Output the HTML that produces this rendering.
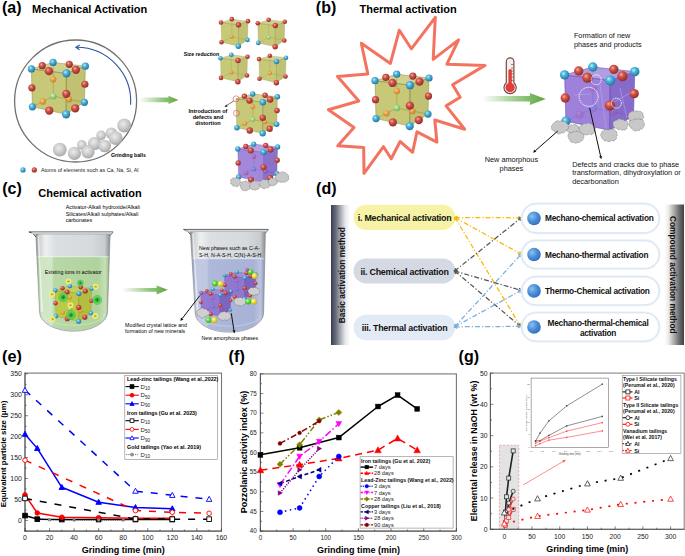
<!DOCTYPE html><html><head><meta charset="utf-8"><style>html,body{margin:0;padding:0;background:#fff;overflow:hidden;width:685px;height:556px;}svg{display:block;font-family:"Liberation Sans",sans-serif;}</style></head><body>
<svg width="685" height="556" viewBox="0 0 685 556">

<defs>
 <radialGradient id="gB" cx="0.38" cy="0.35" r="0.7"><stop offset="0" stop-color="#bfeeff"/><stop offset="0.35" stop-color="#4fb6de"/><stop offset="1" stop-color="#1d6f98"/></radialGradient>
 <radialGradient id="gR" cx="0.38" cy="0.35" r="0.7"><stop offset="0" stop-color="#f7b0a6"/><stop offset="0.35" stop-color="#d4534a"/><stop offset="1" stop-color="#8a2a24"/></radialGradient>
 <radialGradient id="gO" cx="0.38" cy="0.35" r="0.7"><stop offset="0" stop-color="#ffd890"/><stop offset="0.4" stop-color="#f0a040"/><stop offset="1" stop-color="#c07020"/></radialGradient>
 <radialGradient id="gG" cx="0.38" cy="0.35" r="0.7"><stop offset="0" stop-color="#e0ffd8"/><stop offset="0.4" stop-color="#9edc8e"/><stop offset="1" stop-color="#5ca85a"/></radialGradient>
 <radialGradient id="gP" cx="0.38" cy="0.35" r="0.7"><stop offset="0" stop-color="#e8a0d0"/><stop offset="0.4" stop-color="#b05aa8"/><stop offset="1" stop-color="#7a3a7a"/></radialGradient>
 <radialGradient id="gV" cx="0.38" cy="0.35" r="0.7"><stop offset="0" stop-color="#b0c0ff"/><stop offset="0.4" stop-color="#6a7ae0"/><stop offset="1" stop-color="#4050a8"/></radialGradient>
 <radialGradient id="gK" cx="0.42" cy="0.38" r="0.68"><stop offset="0" stop-color="#ececec"/><stop offset="0.55" stop-color="#c8c8c8"/><stop offset="0.9" stop-color="#a8a8a8"/><stop offset="1" stop-color="#9a9a9a"/></radialGradient>
 <radialGradient id="gY" cx="0.38" cy="0.35" r="0.7"><stop offset="0" stop-color="#ffffc0"/><stop offset="0.4" stop-color="#f0e040"/><stop offset="1" stop-color="#b8a810"/></radialGradient>
 <radialGradient id="gLG" cx="0.38" cy="0.35" r="0.7"><stop offset="0" stop-color="#d0ffc0"/><stop offset="0.4" stop-color="#60e040"/><stop offset="1" stop-color="#30a020"/></radialGradient>
 <radialGradient id="gDot" cx="0.35" cy="0.35" r="0.75"><stop offset="0" stop-color="#8fc0f0"/><stop offset="0.5" stop-color="#4a8fd8"/><stop offset="1" stop-color="#2f6ab8"/></radialGradient>
 <linearGradient id="arrG" x1="0" y1="0" x2="1" y2="0"><stop offset="0" stop-color="#5aa83c" stop-opacity="0"/><stop offset="0.55" stop-color="#5aa83c" stop-opacity="0.6"/><stop offset="1" stop-color="#5aa83c"/></linearGradient>
 <linearGradient id="barL" x1="0" y1="0" x2="1" y2="0"><stop offset="0" stop-color="#363e4e"/><stop offset="0.25" stop-color="#666c7a"/><stop offset="0.5" stop-color="#a8acb4"/><stop offset="0.75" stop-color="#e6e7ea"/><stop offset="1" stop-color="#ffffff"/></linearGradient>
 <linearGradient id="barR" x1="1" y1="0" x2="0" y2="0"><stop offset="0" stop-color="#404040"/><stop offset="0.25" stop-color="#6e6e6e"/><stop offset="0.55" stop-color="#b4b4b4"/><stop offset="0.8" stop-color="#ececec"/><stop offset="1" stop-color="#ffffff"/></linearGradient>
 <linearGradient id="glass" x1="0" y1="0" x2="1" y2="0"><stop offset="0" stop-color="#868a8c"/><stop offset="0.05" stop-color="#cdd1d3"/><stop offset="0.13" stop-color="#eef0f0"/><stop offset="0.26" stop-color="#dcdfe2"/><stop offset="0.75" stop-color="#d6dadd"/><stop offset="0.93" stop-color="#c8ccce"/><stop offset="1" stop-color="#888c8e"/></linearGradient>
 <linearGradient id="liqG" x1="0" y1="0" x2="1" y2="0"><stop offset="0" stop-color="#9cc488"/><stop offset="0.05" stop-color="#cfe4c2"/><stop offset="0.2" stop-color="#d2e7c6"/><stop offset="0.23" stop-color="#b8d8a6"/><stop offset="0.85" stop-color="#b0d39d"/><stop offset="0.95" stop-color="#c6e0b6"/><stop offset="1" stop-color="#98c084"/></linearGradient>
 <linearGradient id="liqB" x1="0" y1="0" x2="1" y2="0"><stop offset="0" stop-color="#8c96bc"/><stop offset="0.05" stop-color="#c0c8e2"/><stop offset="0.2" stop-color="#c0c8e2"/><stop offset="0.23" stop-color="#aeb8da"/><stop offset="0.85" stop-color="#a8b2d6"/><stop offset="0.95" stop-color="#bcc4e0"/><stop offset="1" stop-color="#8c96bc"/></linearGradient>
</defs>

<rect width="685" height="556" fill="#fff"/>
<text x="2.00" y="13.00" font-size="16" font-weight="bold" text-anchor="start" fill="#000" >(a)</text>
<text x="32.10" y="12.90" font-size="11" font-weight="bold" text-anchor="start" fill="#000" >Mechanical Activation</text>
<circle cx="75.6" cy="101" r="61" fill="none" stroke="#707070" stroke-width="1.3"/>
<path d="M130.60,104.81 A54.2,54.2 0 0 0 76.50,47.30" fill="none" stroke="#2c52a0" stroke-width="1.1"/>
<path d="M79.70,45.10 L75.90,47.30 L79.50,49.70" fill="none" stroke="#2c52a0" stroke-width="1.1"/>
<line x1="53.10" y1="62.40" x2="53.30" y2="96.20" stroke="#80803a" stroke-width="0.50"/>
<line x1="32.40" y1="106.80" x2="53.30" y2="96.20" stroke="#80803a" stroke-width="0.50"/>
<line x1="84.40" y1="102.30" x2="53.30" y2="96.20" stroke="#80803a" stroke-width="0.50"/>
<polygon points="31.40,68.90 66.40,73.40 66.10,114.30 32.40,106.80" fill="#a0a018" fill-opacity="0.58" stroke="#80803a" stroke-width="0.45"/>
<polygon points="66.40,73.40 85.40,66.20 84.40,102.30 66.10,114.30" fill="#949410" fill-opacity="0.58" stroke="#80803a" stroke-width="0.45"/>
<g opacity="0.85"><circle cx="53.20" cy="79.30" r="3.17" fill="url(#gO)"/></g>
<g opacity="0.85"><circle cx="42.85" cy="101.50" r="3.17" fill="url(#gO)"/></g>
<g opacity="0.85"><circle cx="68.85" cy="99.25" r="3.17" fill="url(#gO)"/></g>
<g opacity="0.85"><circle cx="53.30" cy="96.20" r="3.17" fill="url(#gG)"/></g>
<polygon points="31.40,68.90 66.40,73.40 85.40,66.20 53.10,62.40" fill="#b0b040" fill-opacity="0.58" stroke="#80803a" stroke-width="0.45"/>
<circle cx="53.10" cy="62.40" r="3.60" fill="url(#gB)"/>
<circle cx="42.25" cy="65.65" r="3.60" fill="url(#gR)"/>
<circle cx="69.25" cy="64.30" r="3.60" fill="url(#gR)"/>
<circle cx="31.40" cy="68.90" r="3.60" fill="url(#gB)"/>
<circle cx="85.40" cy="66.20" r="3.60" fill="url(#gB)"/>
<circle cx="48.90" cy="71.15" r="4.14" fill="url(#gR)"/>
<circle cx="75.90" cy="69.80" r="4.14" fill="url(#gR)"/>
<circle cx="31.90" cy="87.85" r="3.60" fill="url(#gR)"/>
<circle cx="84.90" cy="84.25" r="3.60" fill="url(#gR)"/>
<circle cx="66.40" cy="73.40" r="4.14" fill="url(#gB)"/>
<circle cx="32.40" cy="106.80" r="3.60" fill="url(#gB)"/>
<circle cx="84.40" cy="102.30" r="3.60" fill="url(#gB)"/>
<circle cx="66.25" cy="93.85" r="4.14" fill="url(#gR)"/>
<circle cx="49.25" cy="110.55" r="4.14" fill="url(#gR)"/>
<circle cx="75.25" cy="108.30" r="4.14" fill="url(#gR)"/>
<circle cx="66.10" cy="114.30" r="4.14" fill="url(#gB)"/>
<circle cx="81.80" cy="144.90" r="4.80" fill="url(#gK)"/>
<circle cx="101.10" cy="135.40" r="4.80" fill="url(#gK)"/>
<circle cx="111.30" cy="133.20" r="5.80" fill="url(#gK)"/>
<circle cx="59.80" cy="149.70" r="6.90" fill="url(#gK)"/>
<circle cx="94.50" cy="143.50" r="6.60" fill="url(#gK)"/>
<circle cx="74.40" cy="153.40" r="6.60" fill="url(#gK)"/>
<circle cx="88.00" cy="151.80" r="6.70" fill="url(#gK)"/>
<circle cx="104.70" cy="146.00" r="6.30" fill="url(#gK)"/>
<circle cx="124.20" cy="125.50" r="6.90" fill="url(#gK)"/>
<circle cx="115.70" cy="138.10" r="6.90" fill="url(#gK)"/>
<text x="111.00" y="156.60" font-size="5.2" font-weight="bold" text-anchor="start" fill="#000" >Grinding balls</text>
<circle cx="23.00" cy="169.90" r="2.60" fill="url(#gB)"/>
<circle cx="34.30" cy="169.90" r="2.60" fill="url(#gR)"/>
<text x="41.00" y="171.60" font-size="5.35" text-anchor="start" fill="#222" >Atoms of elements such as Ca, Na, Si, Al</text>
<path d="M139.3,97.6 L168.5,97.6 L168.5,95.8 L178.4,99.9 L168.5,104 L168.5,102.2 L139.3,102.2 Z" fill="url(#arrG)"/>
<line x1="231.85" y1="19.15" x2="231.95" y2="36.73" stroke="#80803a" stroke-width="0.25"/>
<line x1="221.50" y1="42.24" x2="231.95" y2="36.73" stroke="#80803a" stroke-width="0.25"/>
<line x1="247.50" y1="39.90" x2="231.95" y2="36.73" stroke="#80803a" stroke-width="0.25"/>
<polygon points="221.00,22.53 238.50,24.87 238.35,46.14 221.50,42.24" fill="#a0a018" fill-opacity="0.58" stroke="#80803a" stroke-width="0.23"/>
<polygon points="238.50,24.87 248.00,21.13 247.50,39.90 238.35,46.14" fill="#949410" fill-opacity="0.58" stroke="#80803a" stroke-width="0.23"/>
<g opacity="0.85"><circle cx="231.95" cy="36.73" r="2.02" fill="url(#gO)"/></g>
<polygon points="221.00,22.53 238.50,24.87 248.00,21.13 231.85,19.15" fill="#b0b040" fill-opacity="0.58" stroke="#80803a" stroke-width="0.23"/>
<circle cx="231.85" cy="19.15" r="2.30" fill="url(#gR)"/>
<circle cx="221.00" cy="22.53" r="2.30" fill="url(#gR)"/>
<circle cx="248.00" cy="21.13" r="2.30" fill="url(#gR)"/>
<circle cx="238.50" cy="24.87" r="2.76" fill="url(#gR)"/>
<circle cx="221.50" cy="42.24" r="2.30" fill="url(#gR)"/>
<circle cx="247.50" cy="39.90" r="2.30" fill="url(#gB)"/>
<circle cx="238.35" cy="46.14" r="2.76" fill="url(#gB)"/>
<line x1="268.65" y1="19.80" x2="268.75" y2="37.38" stroke="#80803a" stroke-width="0.25"/>
<line x1="258.30" y1="42.89" x2="268.75" y2="37.38" stroke="#80803a" stroke-width="0.25"/>
<line x1="284.30" y1="40.55" x2="268.75" y2="37.38" stroke="#80803a" stroke-width="0.25"/>
<polygon points="257.80,23.18 275.30,25.52 275.15,46.79 258.30,42.89" fill="#a0a018" fill-opacity="0.58" stroke="#80803a" stroke-width="0.23"/>
<polygon points="275.30,25.52 284.80,21.78 284.30,40.55 275.15,46.79" fill="#949410" fill-opacity="0.58" stroke="#80803a" stroke-width="0.23"/>
<g opacity="0.85"><circle cx="268.75" cy="37.38" r="2.02" fill="url(#gG)"/></g>
<polygon points="257.80,23.18 275.30,25.52 284.80,21.78 268.65,19.80" fill="#b0b040" fill-opacity="0.58" stroke="#80803a" stroke-width="0.23"/>
<circle cx="268.65" cy="19.80" r="2.30" fill="url(#gR)"/>
<circle cx="257.80" cy="23.18" r="2.30" fill="url(#gR)"/>
<circle cx="284.80" cy="21.78" r="2.30" fill="url(#gR)"/>
<circle cx="275.30" cy="25.52" r="2.76" fill="url(#gR)"/>
<circle cx="258.30" cy="42.89" r="2.30" fill="url(#gB)"/>
<circle cx="284.30" cy="40.55" r="2.30" fill="url(#gR)"/>
<circle cx="275.15" cy="46.79" r="2.76" fill="url(#gR)"/>
<line x1="231.35" y1="54.80" x2="231.45" y2="72.38" stroke="#80803a" stroke-width="0.25"/>
<line x1="221.00" y1="77.89" x2="231.45" y2="72.38" stroke="#80803a" stroke-width="0.25"/>
<line x1="247.00" y1="75.55" x2="231.45" y2="72.38" stroke="#80803a" stroke-width="0.25"/>
<polygon points="220.50,58.18 238.00,60.52 237.85,81.79 221.00,77.89" fill="#a0a018" fill-opacity="0.58" stroke="#80803a" stroke-width="0.23"/>
<polygon points="238.00,60.52 247.50,56.78 247.00,75.55 237.85,81.79" fill="#949410" fill-opacity="0.58" stroke="#80803a" stroke-width="0.23"/>
<g opacity="0.85"><circle cx="231.45" cy="72.38" r="2.02" fill="url(#gO)"/></g>
<polygon points="220.50,58.18 238.00,60.52 247.50,56.78 231.35,54.80" fill="#b0b040" fill-opacity="0.58" stroke="#80803a" stroke-width="0.23"/>
<circle cx="231.35" cy="54.80" r="2.30" fill="url(#gB)"/>
<circle cx="220.50" cy="58.18" r="2.30" fill="url(#gB)"/>
<circle cx="247.50" cy="56.78" r="2.30" fill="url(#gR)"/>
<circle cx="238.00" cy="60.52" r="2.76" fill="url(#gR)"/>
<circle cx="221.00" cy="77.89" r="2.30" fill="url(#gR)"/>
<circle cx="247.00" cy="75.55" r="2.30" fill="url(#gR)"/>
<circle cx="237.85" cy="81.79" r="2.76" fill="url(#gR)"/>
<line x1="269.85" y1="55.70" x2="269.95" y2="73.28" stroke="#80803a" stroke-width="0.25"/>
<line x1="259.50" y1="78.79" x2="269.95" y2="73.28" stroke="#80803a" stroke-width="0.25"/>
<line x1="285.50" y1="76.45" x2="269.95" y2="73.28" stroke="#80803a" stroke-width="0.25"/>
<polygon points="259.00,59.08 276.50,61.42 276.35,82.69 259.50,78.79" fill="#a0a018" fill-opacity="0.58" stroke="#80803a" stroke-width="0.23"/>
<polygon points="276.50,61.42 286.00,57.68 285.50,76.45 276.35,82.69" fill="#949410" fill-opacity="0.58" stroke="#80803a" stroke-width="0.23"/>
<g opacity="0.85"><circle cx="269.95" cy="73.28" r="2.02" fill="url(#gO)"/></g>
<polygon points="259.00,59.08 276.50,61.42 286.00,57.68 269.85,55.70" fill="#b0b040" fill-opacity="0.58" stroke="#80803a" stroke-width="0.23"/>
<circle cx="269.85" cy="55.70" r="2.30" fill="url(#gR)"/>
<circle cx="259.00" cy="59.08" r="2.30" fill="url(#gR)"/>
<circle cx="286.00" cy="57.68" r="2.30" fill="url(#gB)"/>
<circle cx="276.50" cy="61.42" r="2.76" fill="url(#gB)"/>
<circle cx="259.50" cy="78.79" r="2.30" fill="url(#gR)"/>
<circle cx="285.50" cy="76.45" r="2.30" fill="url(#gR)"/>
<circle cx="276.35" cy="82.69" r="2.76" fill="url(#gR)"/>
<text x="183.70" y="55.70" font-size="5.2" font-weight="bold" text-anchor="start" fill="#000" >Size reduction</text>
<line x1="252.70" y1="93.90" x2="252.85" y2="119.59" stroke="#80803a" stroke-width="0.38"/>
<line x1="236.86" y1="127.64" x2="252.85" y2="119.59" stroke="#80803a" stroke-width="0.38"/>
<line x1="276.64" y1="124.22" x2="252.85" y2="119.59" stroke="#80803a" stroke-width="0.38"/>
<polygon points="236.10,98.84 262.88,102.26 262.65,133.34 236.86,127.64" fill="#a0a018" fill-opacity="0.58" stroke="#80803a" stroke-width="0.34"/>
<polygon points="262.88,102.26 277.41,96.79 276.64,124.22 262.65,133.34" fill="#949410" fill-opacity="0.58" stroke="#80803a" stroke-width="0.34"/>
<g opacity="0.85"><circle cx="252.78" cy="106.74" r="2.42" fill="url(#gO)"/></g>
<g opacity="0.85"><circle cx="244.86" cy="123.62" r="2.42" fill="url(#gO)"/></g>
<g opacity="0.85"><circle cx="264.75" cy="121.91" r="2.42" fill="url(#gO)"/></g>
<g opacity="0.85"><circle cx="252.85" cy="119.59" r="2.42" fill="url(#gG)"/></g>
<polygon points="236.10,98.84 262.88,102.26 277.41,96.79 252.70,93.90" fill="#b0b040" fill-opacity="0.58" stroke="#80803a" stroke-width="0.34"/>
<circle cx="252.70" cy="93.90" r="2.75" fill="url(#gB)"/>
<circle cx="244.40" cy="96.37" r="2.75" fill="url(#gR)"/>
<circle cx="265.06" cy="95.34" r="2.75" fill="url(#gR)"/>
<circle cx="277.41" cy="96.79" r="2.75" fill="url(#gB)"/>
<circle cx="249.49" cy="100.55" r="3.17" fill="url(#gR)"/>
<circle cx="270.14" cy="99.52" r="3.17" fill="url(#gR)"/>
<circle cx="277.03" cy="110.51" r="2.75" fill="url(#gR)"/>
<circle cx="262.88" cy="102.26" r="3.17" fill="url(#gB)"/>
<circle cx="236.86" cy="127.64" r="2.75" fill="url(#gB)"/>
<circle cx="276.64" cy="124.22" r="2.75" fill="url(#gB)"/>
<circle cx="262.76" cy="117.80" r="3.17" fill="url(#gR)"/>
<circle cx="249.76" cy="130.49" r="3.17" fill="url(#gR)"/>
<circle cx="269.65" cy="128.78" r="3.17" fill="url(#gR)"/>
<circle cx="262.65" cy="133.34" r="3.17" fill="url(#gB)"/>
<circle cx="236.10" cy="98.84" r="3.0" fill="none" stroke="#e8484a" stroke-width="0.6"/>
<circle cx="236.48" cy="113.24" r="3.0" fill="none" stroke="#e8484a" stroke-width="0.6"/>
<line x1="233.9" y1="100.8" x2="226.2" y2="105.9" stroke="#111" stroke-width="0.6"/>
<path d="M224.6,107 L226.2,104.4 L227.6,106.6 Z" fill="#111"/>
<text x="208.00" y="113.00" font-size="5.5" font-weight="bold" text-anchor="middle" fill="#000" >Introduction of</text>
<text x="208.00" y="119.20" font-size="5.5" font-weight="bold" text-anchor="middle" fill="#000" >defects and</text>
<text x="208.00" y="125.40" font-size="5.5" font-weight="bold" text-anchor="middle" fill="#000" >distortion</text>
<line x1="253.79" y1="144.10" x2="253.94" y2="169.11" stroke="#6a50b0" stroke-width="0.37"/>
<line x1="238.54" y1="176.96" x2="253.94" y2="169.11" stroke="#6a50b0" stroke-width="0.37"/>
<line x1="276.86" y1="173.63" x2="253.94" y2="169.11" stroke="#6a50b0" stroke-width="0.37"/>
<polygon points="237.80,148.91 263.60,152.24 263.37,182.51 238.54,176.96" fill="#9272d4" fill-opacity="0.85" stroke="#6a50b0" stroke-width="0.33"/>
<polygon points="263.60,152.24 277.60,146.91 276.86,173.63 263.37,182.51" fill="#7658c0" fill-opacity="0.85" stroke="#6a50b0" stroke-width="0.33"/>
<g opacity="0.6"><circle cx="253.87" cy="156.61" r="2.33" fill="url(#gP)"/></g>
<g opacity="0.6"><circle cx="246.24" cy="173.03" r="2.33" fill="url(#gP)"/></g>
<g opacity="0.6"><circle cx="265.40" cy="171.37" r="2.33" fill="url(#gP)"/></g>
<g opacity="0.6"><circle cx="253.94" cy="169.11" r="2.33" fill="url(#gV)"/></g>
<polygon points="237.80,148.91 263.60,152.24 277.60,146.91 253.79,144.10" fill="#a890dc" fill-opacity="0.85" stroke="#6a50b0" stroke-width="0.33"/>
<circle cx="253.79" cy="144.10" r="2.65" fill="url(#gB)"/>
<circle cx="245.80" cy="146.50" r="2.65" fill="url(#gR)"/>
<circle cx="265.70" cy="145.51" r="2.65" fill="url(#gR)"/>
<circle cx="237.80" cy="148.91" r="2.65" fill="url(#gB)"/>
<circle cx="277.60" cy="146.91" r="2.65" fill="url(#gB)"/>
<circle cx="250.70" cy="150.57" r="3.05" fill="url(#gR)"/>
<circle cx="270.60" cy="149.58" r="3.05" fill="url(#gR)"/>
<circle cx="238.17" cy="162.93" r="2.65" fill="url(#gR)"/>
<circle cx="277.23" cy="160.27" r="2.65" fill="url(#gR)"/>
<circle cx="263.60" cy="152.24" r="3.05" fill="url(#gB)"/>
<circle cx="238.54" cy="176.96" r="2.65" fill="url(#gB)"/>
<circle cx="276.86" cy="173.63" r="2.65" fill="url(#gB)"/>
<circle cx="263.48" cy="167.37" r="3.05" fill="url(#gR)"/>
<circle cx="250.96" cy="179.73" r="3.05" fill="url(#gR)"/>
<circle cx="270.12" cy="178.07" r="3.05" fill="url(#gR)"/>
<circle cx="263.37" cy="182.51" r="3.05" fill="url(#gB)"/>
<path d="M232.32,184.63 A1.88,1.88 0 0 1 230.84,182.08 A1.77,1.77 0 0 1 231.03,179.72 A2.88,2.88 0 0 1 234.62,178.11 A1.76,1.76 0 0 1 237.09,178.23 A2.14,2.14 0 0 1 239.87,180.26 A1.69,1.69 0 0 1 240.00,183.24 A1.63,1.63 0 0 1 238.66,185.59 A2.18,2.18 0 0 1 235.23,186.06 A2.01,2.01 0 0 1 232.32,184.63 Z" fill="#c8c8c8" stroke="#5a5a5a" stroke-width="0.5" stroke-dasharray="0.9,0.5"/>
<path d="M240.60,185.80 A1.60,1.60 0 0 1 241.32,183.73 A1.89,1.89 0 0 1 243.98,181.80 A2.38,2.38 0 0 1 248.17,182.82 A1.96,1.96 0 0 1 250.11,184.90 A1.63,1.63 0 0 1 250.45,187.21 A2.19,2.19 0 0 1 248.09,189.43 A2.14,2.14 0 0 1 245.10,190.45 A3.04,3.04 0 0 1 241.13,188.16 A1.59,1.59 0 0 1 240.60,185.80 Z" fill="#c8c8c8" stroke="#5a5a5a" stroke-width="0.5" stroke-dasharray="0.9,0.5"/>
<path d="M251.17,183.02 A2.04,2.04 0 0 1 254.32,181.62 A1.90,1.90 0 0 1 256.86,182.12 A2.35,2.35 0 0 1 259.40,184.01 A1.96,1.96 0 0 1 259.37,186.96 A2.20,2.20 0 0 1 256.72,189.37 A2.45,2.45 0 0 1 253.34,189.46 A2.07,2.07 0 0 1 250.40,187.73 A1.94,1.94 0 0 1 250.14,184.93 A1.61,1.61 0 0 1 251.17,183.02 Z" fill="#c8c8c8" stroke="#5a5a5a" stroke-width="0.5" stroke-dasharray="0.9,0.5"/>
<path d="M265.45,179.95 A2.06,2.06 0 0 1 268.74,181.22 A1.95,1.95 0 0 1 270.35,183.99 A1.59,1.59 0 0 1 269.64,186.20 A2.83,2.83 0 0 1 266.13,187.61 A2.12,2.12 0 0 1 262.49,187.91 A2.24,2.24 0 0 1 260.16,185.74 A2.00,2.00 0 0 1 260.00,182.63 A1.53,1.53 0 0 1 261.66,180.49 A2.78,2.78 0 0 1 265.45,179.95 Z" fill="#c8c8c8" stroke="#5a5a5a" stroke-width="0.5" stroke-dasharray="0.9,0.5"/>
<path d="M275.89,179.95 A1.61,1.61 0 0 1 277.44,181.72 A2.38,2.38 0 0 1 275.52,184.38 A1.12,1.12 0 0 1 274.00,185.30 A2.30,2.30 0 0 1 270.62,185.02 A1.98,1.98 0 0 1 268.56,182.97 A1.30,1.30 0 0 1 268.41,181.15 A1.78,1.78 0 0 1 269.83,179.16 A1.78,1.78 0 0 1 272.73,178.34 A2.42,2.42 0 0 1 275.89,179.95 Z" fill="#c8c8c8" stroke="#5a5a5a" stroke-width="0.5" stroke-dasharray="0.9,0.5"/>
<path d="M288.51,177.64 A2.47,2.47 0 0 1 286.31,181.14 A2.18,2.18 0 0 1 282.93,181.64 A2.85,2.85 0 0 1 278.90,181.34 A2.07,2.07 0 0 1 276.34,179.12 A2.76,2.76 0 0 1 276.52,174.79 A2.38,2.38 0 0 1 280.01,173.02 A2.44,2.44 0 0 1 284.14,172.59 A1.72,1.72 0 0 1 286.49,174.24 A2.31,2.31 0 0 1 288.51,177.64 Z" fill="#c8c8c8" stroke="#5a5a5a" stroke-width="0.5" stroke-dasharray="0.9,0.5"/>
<text x="315.80" y="13.00" font-size="16" font-weight="bold" text-anchor="start" fill="#000" >(b)</text>
<text x="359.50" y="12.90" font-size="11" font-weight="bold" text-anchor="start" fill="#000" >Thermal activation</text>
<polygon points="435.30,17.30 433.20,59.40 458.60,39.90 446.90,64.20 485.00,65.40 452.60,84.80 460.20,97.30 446.10,105.90 464.70,129.20 434.80,120.00 436.90,142.10 417.00,131.80 412.60,152.30 400.10,141.50 391.20,158.80 383.50,146.70 364.00,173.40 363.70,147.50 337.80,145.80 354.00,127.60 328.40,109.70 358.80,101.00 337.50,76.40 367.80,73.90 361.30,43.20 390.40,63.40 399.30,30.20 411.30,48.80" fill="#fff" stroke="#f47260" stroke-width="3.0" stroke-linejoin="round"/>
<line x1="396.70" y1="74.20" x2="396.90" y2="108.00" stroke="#80803a" stroke-width="0.50"/>
<line x1="376.00" y1="118.60" x2="396.90" y2="108.00" stroke="#80803a" stroke-width="0.50"/>
<line x1="428.00" y1="114.10" x2="396.90" y2="108.00" stroke="#80803a" stroke-width="0.50"/>
<polygon points="375.00,80.70 410.00,85.20 409.70,126.10 376.00,118.60" fill="#a0a018" fill-opacity="0.58" stroke="#80803a" stroke-width="0.45"/>
<polygon points="410.00,85.20 429.00,78.00 428.00,114.10 409.70,126.10" fill="#949410" fill-opacity="0.58" stroke="#80803a" stroke-width="0.45"/>
<g opacity="0.85"><circle cx="396.80" cy="91.10" r="3.17" fill="url(#gO)"/></g>
<g opacity="0.85"><circle cx="386.45" cy="113.30" r="3.17" fill="url(#gO)"/></g>
<g opacity="0.85"><circle cx="412.45" cy="111.05" r="3.17" fill="url(#gO)"/></g>
<g opacity="0.85"><circle cx="396.90" cy="108.00" r="3.17" fill="url(#gG)"/></g>
<polygon points="375.00,80.70 410.00,85.20 429.00,78.00 396.70,74.20" fill="#b0b040" fill-opacity="0.58" stroke="#80803a" stroke-width="0.45"/>
<circle cx="396.70" cy="74.20" r="3.60" fill="url(#gB)"/>
<circle cx="385.85" cy="77.45" r="3.60" fill="url(#gR)"/>
<circle cx="412.85" cy="76.10" r="3.60" fill="url(#gR)"/>
<circle cx="375.00" cy="80.70" r="3.60" fill="url(#gB)"/>
<circle cx="429.00" cy="78.00" r="3.60" fill="url(#gB)"/>
<circle cx="392.50" cy="82.95" r="4.14" fill="url(#gR)"/>
<circle cx="419.50" cy="81.60" r="4.14" fill="url(#gR)"/>
<circle cx="375.50" cy="99.65" r="3.60" fill="url(#gR)"/>
<circle cx="428.50" cy="96.05" r="3.60" fill="url(#gR)"/>
<circle cx="410.00" cy="85.20" r="4.14" fill="url(#gB)"/>
<circle cx="376.00" cy="118.60" r="3.60" fill="url(#gB)"/>
<circle cx="428.00" cy="114.10" r="3.60" fill="url(#gB)"/>
<circle cx="409.85" cy="105.65" r="4.14" fill="url(#gR)"/>
<circle cx="392.85" cy="122.35" r="4.14" fill="url(#gR)"/>
<circle cx="418.85" cy="120.10" r="4.14" fill="url(#gR)"/>
<circle cx="409.70" cy="126.10" r="4.14" fill="url(#gB)"/>
<path d="M506.3,82.8 L506.3,61.7 A3.8,3.8 0 0 1 513.9,61.7 L513.9,82.8 A6.1,6.1 0 1 1 506.3,82.8 Z" fill="#f0f0f0" stroke="#7a4a3c" stroke-width="1.2"/>
<path d="M508.4,86 L508.4,70.8 A1.7,1.7 0 0 1 511.8,70.8 L511.8,86 Z" fill="#e23c3c"/>
<circle cx="510.1" cy="87.6" r="4.6" fill="#e23c3c"/>
<line x1="511.0" y1="64.6" x2="513.6" y2="64.6" stroke="#7a4a3c" stroke-width="0.7"/>
<line x1="511.0" y1="68.1" x2="513.6" y2="68.1" stroke="#7a4a3c" stroke-width="0.7"/>
<line x1="511.0" y1="71" x2="513.6" y2="71" stroke="#7a4a3c" stroke-width="0.7"/>
<line x1="511.0" y1="73.9" x2="513.6" y2="73.9" stroke="#7a4a3c" stroke-width="0.7"/>
<line x1="511.0" y1="77.1" x2="513.6" y2="77.1" stroke="#7a4a3c" stroke-width="0.7"/>
<line x1="511.0" y1="80.4" x2="513.6" y2="80.4" stroke="#7a4a3c" stroke-width="0.7"/>
<path d="M482,96.1 L529.9,96.1 L529.9,93 L545.7,99 L529.9,105.1 L529.9,101.6 L482,101.6 Z" fill="url(#arrG)"/>
<text x="573.90" y="37.80" font-size="7.3" text-anchor="start" fill="#111" >Formation of new</text>
<text x="573.90" y="46.60" font-size="7.3" text-anchor="start" fill="#111" >phases and products</text>
<line x1="592.81" y1="67.00" x2="593.07" y2="108.24" stroke="#6a50b0" stroke-width="0.65"/>
<line x1="565.90" y1="121.17" x2="593.07" y2="108.24" stroke="#6a50b0" stroke-width="0.65"/>
<line x1="633.50" y1="115.68" x2="593.07" y2="108.24" stroke="#6a50b0" stroke-width="0.65"/>
<polygon points="564.60,74.93 610.10,80.42 609.71,130.32 565.90,121.17" fill="#9070d6" fill-opacity="0.88" stroke="#6a50b0" stroke-width="0.59"/>
<polygon points="610.10,80.42 634.80,71.64 633.50,115.68 609.71,130.32" fill="#7656c4" fill-opacity="0.88" stroke="#6a50b0" stroke-width="0.59"/>
<g opacity="0.25"><circle cx="592.94" cy="87.62" r="4.12" fill="url(#gP)"/></g>
<g opacity="0.25"><circle cx="579.49" cy="114.70" r="4.12" fill="url(#gP)"/></g>
<g opacity="0.25"><circle cx="613.29" cy="111.96" r="4.12" fill="url(#gP)"/></g>
<g opacity="0.25"><circle cx="593.07" cy="108.24" r="4.12" fill="url(#gV)"/></g>
<polygon points="564.60,74.93 610.10,80.42 634.80,71.64 592.81,67.00" fill="#a890de" fill-opacity="0.88" stroke="#6a50b0" stroke-width="0.59"/>
<circle cx="592.81" cy="67.00" r="4.68" fill="url(#gB)"/>
<circle cx="578.71" cy="70.97" r="4.68" fill="url(#gR)"/>
<circle cx="613.81" cy="69.32" r="4.68" fill="url(#gR)"/>
<circle cx="564.60" cy="74.93" r="4.68" fill="url(#gB)"/>
<circle cx="634.80" cy="71.64" r="4.68" fill="url(#gB)"/>
<circle cx="587.35" cy="77.68" r="5.15" fill="url(#gR)"/>
<circle cx="622.45" cy="76.03" r="5.15" fill="url(#gR)"/>
<circle cx="565.25" cy="98.05" r="4.68" fill="url(#gR)"/>
<circle cx="634.15" cy="93.66" r="4.68" fill="url(#gR)"/>
<circle cx="610.10" cy="80.42" r="5.15" fill="url(#gB)"/>
<circle cx="565.90" cy="121.17" r="4.68" fill="url(#gB)"/>
<circle cx="609.90" cy="105.37" r="5.15" fill="url(#gR)"/>
<path d="M574,95 L590,94 M600,84 L606,128 M620,88 L627,118 M614,102 L632,92" stroke="#b8a4ea" stroke-width="0.6" fill="none"/>
<circle cx="596.2" cy="79.8" r="5" fill="none" stroke="#fff" stroke-width="0.9" stroke-dasharray="1.4,0.7"/>
<circle cx="588.6" cy="96.8" r="9.5" fill="none" stroke="#fff" stroke-width="0.9" stroke-dasharray="1.4,0.7"/>
<circle cx="616.4" cy="103.2" r="5" fill="none" stroke="#fff" stroke-width="0.9" stroke-dasharray="1.4,0.7"/>
<path d="M577.94,126.61 A1.83,1.83 0 0 1 579.39,128.58 A1.74,1.74 0 0 1 578.19,131.16 A1.77,1.77 0 0 1 576.13,132.90 A2.03,2.03 0 0 1 573.35,132.69 A1.94,1.94 0 0 1 569.87,132.61 A1.68,1.68 0 0 1 567.81,131.35 A1.85,1.85 0 0 1 566.83,128.94 A1.20,1.20 0 0 1 568.09,127.51 A1.83,1.83 0 0 1 569.58,125.58 A2.27,2.27 0 0 1 572.61,125.15 A2.52,2.52 0 0 1 576.37,125.24 A1.22,1.22 0 0 1 577.94,126.61 Z" fill="#c8c8c8" stroke="#5a5a5a" stroke-width="0.5" stroke-dasharray="0.9,0.5"/>
<path d="M640.25,120.06 A1.50,1.50 0 0 1 638.17,121.38 A2.48,2.48 0 0 1 634.42,121.42 A2.74,2.74 0 0 1 630.08,120.78 A1.92,1.92 0 0 1 628.78,118.02 A2.29,2.29 0 0 1 628.46,114.98 A2.10,2.10 0 0 1 630.36,112.40 A2.57,2.57 0 0 1 634.34,111.72 A2.29,2.29 0 0 1 637.87,111.62 A2.60,2.60 0 0 1 641.79,112.76 A1.60,1.60 0 0 1 642.65,115.51 A1.39,1.39 0 0 1 643.38,117.93 A2.64,2.64 0 0 1 640.25,120.06 Z" fill="#c8c8c8" stroke="#5a5a5a" stroke-width="0.5" stroke-dasharray="0.9,0.5"/>
<path d="M637.13,130.21 A2.61,2.61 0 0 1 632.84,129.35 A1.53,1.53 0 0 1 631.22,127.62 A2.06,2.06 0 0 1 629.38,125.08 A1.59,1.59 0 0 1 629.20,122.75 A2.60,2.60 0 0 1 632.42,120.36 A2.62,2.62 0 0 1 636.55,119.73 A2.06,2.06 0 0 1 640.06,119.52 A2.52,2.52 0 0 1 643.49,121.71 A1.91,1.91 0 0 1 644.09,124.31 A1.60,1.60 0 0 1 643.69,126.64 A3.14,3.14 0 0 1 640.28,129.10 A1.89,1.89 0 0 1 637.13,130.21 Z" fill="#c8c8c8" stroke="#5a5a5a" stroke-width="0.5" stroke-dasharray="0.9,0.5"/>
<path d="M561.57,132.43 A2.84,2.84 0 0 1 556.44,132.47 A1.67,1.67 0 0 1 554.47,130.68 A2.50,2.50 0 0 1 551.60,127.68 A1.64,1.64 0 0 1 552.23,125.36 A2.47,2.47 0 0 1 554.53,122.88 A3.21,3.21 0 0 1 559.48,121.33 A2.20,2.20 0 0 1 562.60,121.67 A2.67,2.67 0 0 1 566.55,123.44 A1.81,1.81 0 0 1 568.12,125.92 A1.96,1.96 0 0 1 567.06,129.30 A2.01,2.01 0 0 1 565.05,131.24 A2.13,2.13 0 0 1 561.57,132.43 Z" fill="#c8c8c8" stroke="#5a5a5a" stroke-width="0.5" stroke-dasharray="0.9,0.5"/>
<path d="M580.55,132.73 A1.79,1.79 0 0 1 579.96,130.03 A1.76,1.76 0 0 1 580.10,126.85 A1.69,1.69 0 0 1 581.95,125.24 A3.29,3.29 0 0 1 586.32,123.82 A2.42,2.42 0 0 1 589.91,123.55 A2.22,2.22 0 0 1 592.53,125.01 A2.24,2.24 0 0 1 594.87,127.32 A1.76,1.76 0 0 1 594.65,129.93 A2.03,2.03 0 0 1 593.51,133.03 A2.56,2.56 0 0 1 589.25,133.85 A2.89,2.89 0 0 1 585.38,134.42 A3.25,3.25 0 0 1 580.55,132.73 Z" fill="#c8c8c8" stroke="#5a5a5a" stroke-width="0.5" stroke-dasharray="0.9,0.5"/>
<path d="M568.93,137.51 A1.89,1.89 0 0 1 568.32,134.61 A2.30,2.30 0 0 1 571.72,132.91 A1.47,1.47 0 0 1 574.18,132.03 A3.31,3.31 0 0 1 578.67,132.27 A2.01,2.01 0 0 1 581.50,133.25 A2.28,2.28 0 0 1 583.79,136.20 A1.51,1.51 0 0 1 583.22,138.17 A2.58,2.58 0 0 1 580.93,140.93 A2.88,2.88 0 0 1 577.19,142.39 A2.21,2.21 0 0 1 573.72,142.20 A2.76,2.76 0 0 1 569.72,139.80 A1.65,1.65 0 0 1 568.93,137.51 Z" fill="#c8c8c8" stroke="#5a5a5a" stroke-width="0.5" stroke-dasharray="0.9,0.5"/>
<path d="M603.50,131.02 A3.70,3.70 0 0 1 608.60,130.04 A2.19,2.19 0 0 1 611.46,129.27 A2.89,2.89 0 0 1 615.31,131.11 A1.88,1.88 0 0 1 616.80,133.64 A2.34,2.34 0 0 1 616.19,136.86 A1.69,1.69 0 0 1 615.35,139.56 A2.73,2.73 0 0 1 611.32,140.38 A3.45,3.45 0 0 1 606.56,140.71 A2.81,2.81 0 0 1 602.89,138.74 A1.95,1.95 0 0 1 601.34,136.51 A1.66,1.66 0 0 1 601.67,133.52 A1.74,1.74 0 0 1 603.50,131.02 Z" fill="#c8c8c8" stroke="#5a5a5a" stroke-width="0.5" stroke-dasharray="0.9,0.5"/>
<path d="M620.83,119.56 A2.75,2.75 0 0 1 624.31,120.71 A2.49,2.49 0 0 1 627.79,122.62 A1.75,1.75 0 0 1 627.22,125.44 A1.40,1.40 0 0 1 627.04,127.36 A2.42,2.42 0 0 1 623.45,129.65 A1.74,1.74 0 0 1 620.43,129.09 A2.76,2.76 0 0 1 616.25,128.04 A1.54,1.54 0 0 1 613.84,126.83 A1.63,1.63 0 0 1 613.26,124.42 A2.14,2.14 0 0 1 614.89,121.04 A1.63,1.63 0 0 1 617.25,120.31 A2.02,2.02 0 0 1 620.83,119.56 Z" fill="#c8c8c8" stroke="#5a5a5a" stroke-width="0.5" stroke-dasharray="0.9,0.5"/>
<line x1="557.80" y1="131.00" x2="535.40" y2="150.69" stroke="#111" stroke-width="1.0"/><path d="M533.00,152.80 L534.41,149.56 L536.39,151.81 Z" fill="#111"/>
<line x1="589.70" y1="108.00" x2="600.59" y2="156.18" stroke="#111" stroke-width="1.0"/><path d="M601.30,159.30 L599.13,156.51 L602.06,155.85 Z" fill="#111"/>
<text x="511.40" y="162.00" font-size="7.35" text-anchor="middle" fill="#111" >New amorphous</text>
<text x="511.40" y="171.00" font-size="7.35" text-anchor="middle" fill="#111" >phases</text>
<text x="572.20" y="166.50" font-size="7.35" text-anchor="start" fill="#111" >Defects and cracks due to phase</text>
<text x="572.20" y="175.20" font-size="7.35" text-anchor="start" fill="#111" >transformation, dihydroxylation or</text>
<text x="572.20" y="183.90" font-size="7.35" text-anchor="start" fill="#111" >decarbonation</text>
<text x="2.20" y="193.50" font-size="16" font-weight="bold" text-anchor="start" fill="#000" >(c)</text>
<text x="38.30" y="197.00" font-size="11" font-weight="bold" text-anchor="start" fill="#000" >Chemical activation</text>
<text x="65.70" y="209.40" font-size="5.35" text-anchor="start" fill="#000" >Activator-Alkali hydroxide/Alkali</text>
<text x="65.70" y="215.50" font-size="5.35" text-anchor="start" fill="#000" >Silicates/Alkali sulphates/Alkali</text>
<text x="65.70" y="221.60" font-size="5.35" text-anchor="start" fill="#000" >carbonates</text>
<path d="M35.80,233.90 L39.60,311.90 A33.95,19.30 0 0 0 107.50,311.90 L110.10,233.90 Z" fill="url(#glass)"/>
<path d="M37.41,256.70 L40.10,311.90 A33.45,18.70 0 0 0 107.00,311.90 L108.84,256.70 Z" fill="url(#liqG)"/>
<path d="M37.41,256.70 L108.84,256.70" stroke="#ffffff" stroke-opacity="0.45" stroke-width="1.2"/>
<path d="M42.60,313.90 A30.95,11.30 0 0 0 104.50,313.90" fill="none" stroke="#ffffff" stroke-opacity="0.35" stroke-width="0.8"/>
<path d="M35.80,233.90 L39.60,311.90 A33.95,19.30 0 0 0 107.50,311.90 L110.10,233.90 Z" fill="none" stroke="#8a8e90" stroke-width="0.7"/>
<path d="M38.30,235.90 L42.10,311.90" stroke="#ffffff" stroke-opacity="0.6" stroke-width="1.6"/>
<path d="M28.90,231.90 Q33.90,232.70 35.80,236.90" fill="none" stroke="#444" stroke-width="1.0"/>
<path d="M28.90,231.90 L113.10,231.90" fill="none" stroke="#555" stroke-width="0.9"/>
<path d="M30.90,233.30 L112.10,233.30" fill="none" stroke="#c8cccd" stroke-width="1.2"/>
<path d="M113.10,231.90 Q112.10,233.40 110.10,235.90" fill="none" stroke="#666" stroke-width="0.8"/>
<text x="44.80" y="273.90" font-size="5.3" text-anchor="start" fill="#000" >Existing ions in activator</text>
<line x1="69.87" y1="286.00" x2="70.00" y2="308.98" stroke="#8a8a30" stroke-width="0.34"/>
<line x1="55.88" y1="316.19" x2="70.00" y2="308.98" stroke="#8a8a30" stroke-width="0.34"/>
<line x1="91.03" y1="313.13" x2="70.00" y2="308.98" stroke="#8a8a30" stroke-width="0.34"/>
<polygon points="55.20,290.42 78.86,293.48 78.66,321.29 55.88,316.19" fill="#c0c010" fill-opacity="0.62" stroke="#8a8a30" stroke-width="0.30"/>
<polygon points="78.86,293.48 91.70,288.58 91.03,313.13 78.66,321.29" fill="#b0b008" fill-opacity="0.62" stroke="#8a8a30" stroke-width="0.30"/>
<g opacity="0.85"><circle cx="69.94" cy="297.49" r="1.96" fill="url(#gO)"/></g>
<g opacity="0.85"><circle cx="62.94" cy="312.59" r="1.96" fill="url(#gO)"/></g>
<g opacity="0.85"><circle cx="80.52" cy="311.06" r="1.96" fill="url(#gO)"/></g>
<g opacity="0.85"><circle cx="70.00" cy="308.98" r="1.96" fill="url(#gG)"/></g>
<polygon points="55.20,290.42 78.86,293.48 91.70,288.58 69.87,286.00" fill="#cccc38" fill-opacity="0.62" stroke="#8a8a30" stroke-width="0.30"/>
<circle cx="69.87" cy="286.00" r="2.23" fill="url(#gB)"/>
<circle cx="62.53" cy="288.21" r="2.23" fill="url(#gR)"/>
<circle cx="80.79" cy="287.29" r="2.23" fill="url(#gR)"/>
<circle cx="55.20" cy="290.42" r="2.23" fill="url(#gB)"/>
<circle cx="91.70" cy="288.58" r="2.23" fill="url(#gB)"/>
<circle cx="67.03" cy="291.95" r="2.57" fill="url(#gR)"/>
<circle cx="85.28" cy="291.03" r="2.57" fill="url(#gR)"/>
<circle cx="55.54" cy="303.31" r="2.23" fill="url(#gR)"/>
<circle cx="91.37" cy="300.86" r="2.23" fill="url(#gR)"/>
<circle cx="78.86" cy="293.48" r="2.57" fill="url(#gB)"/>
<circle cx="55.88" cy="316.19" r="2.23" fill="url(#gB)"/>
<circle cx="91.03" cy="313.13" r="2.23" fill="url(#gB)"/>
<circle cx="78.76" cy="307.39" r="2.57" fill="url(#gR)"/>
<circle cx="67.27" cy="318.74" r="2.57" fill="url(#gR)"/>
<circle cx="84.84" cy="317.21" r="2.57" fill="url(#gR)"/>
<circle cx="78.66" cy="321.29" r="2.57" fill="url(#gB)"/>
<circle cx="80.4" cy="283" r="3" fill="#5fd35a" fill-opacity="0.85" stroke="#3aa838" stroke-width="0.4"/><circle cx="80.4" cy="283" r="1.86" fill="#3cc43c"/><path d="M79.20,283 H81.60 M80.4,281.80 V284.20" stroke="#1e5e1e" stroke-width="0.48"/>
<circle cx="63.2" cy="297.3" r="4.5" fill="#5fd35a" fill-opacity="0.85" stroke="#3aa838" stroke-width="0.4"/><circle cx="63.2" cy="297.3" r="2.79" fill="#3cc43c"/><path d="M61.40,297.3 H65.00 M63.2,295.50 V299.10" stroke="#1e5e1e" stroke-width="0.72"/>
<circle cx="97.2" cy="299.9" r="4.5" fill="#5fd35a" fill-opacity="0.85" stroke="#3aa838" stroke-width="0.4"/><circle cx="97.2" cy="299.9" r="2.79" fill="#3cc43c"/><path d="M95.40,299.9 H99.00 M97.2,298.10 V301.70" stroke="#1e5e1e" stroke-width="0.72"/>
<circle cx="71.1" cy="315.1" r="4.5" fill="#5fd35a" fill-opacity="0.85" stroke="#3aa838" stroke-width="0.4"/><circle cx="71.1" cy="315.1" r="2.79" fill="#3cc43c"/><path d="M69.30,315.1 H72.90 M71.1,313.30 V316.90" stroke="#1e5e1e" stroke-width="0.72"/>
<circle cx="68.5" cy="281.4" r="3" fill="#f5f07a" fill-opacity="0.9"/><circle cx="68.5" cy="281.4" r="1.80" fill="#ece040"/><path d="M67.45,281.4 H69.55" stroke="#555" stroke-width="0.60"/>
<circle cx="95.6" cy="286.8" r="3" fill="#f5f07a" fill-opacity="0.9"/><circle cx="95.6" cy="286.8" r="1.80" fill="#ece040"/><path d="M94.55,286.8 H96.65" stroke="#555" stroke-width="0.60"/>
<circle cx="52.1" cy="294.3" r="3" fill="#f5f07a" fill-opacity="0.9"/><circle cx="52.1" cy="294.3" r="1.80" fill="#ece040"/><path d="M51.05,294.3 H53.15" stroke="#555" stroke-width="0.60"/>
<circle cx="70.5" cy="305.2" r="3" fill="#f5f07a" fill-opacity="0.9"/><circle cx="70.5" cy="305.2" r="1.80" fill="#ece040"/><path d="M69.45,305.2 H71.55" stroke="#555" stroke-width="0.60"/>
<circle cx="95.2" cy="316.1" r="3" fill="#f5f07a" fill-opacity="0.9"/><circle cx="95.2" cy="316.1" r="1.80" fill="#ece040"/><path d="M94.15,316.1 H96.25" stroke="#555" stroke-width="0.60"/>
<circle cx="52.7" cy="319.1" r="3" fill="#f5f07a" fill-opacity="0.9"/><circle cx="52.7" cy="319.1" r="1.80" fill="#ece040"/><path d="M51.65,319.1 H53.75" stroke="#555" stroke-width="0.60"/>
<path d="M121.8,288 L156.6,288 L156.6,285.5 L167.8,289.8 L156.6,294.4 L156.6,291.8 L121.8,291.8 Z" fill="url(#arrG)"/>
<path d="M190.40,231.40 L195.20,313.00 A34.20,19.20 0 0 0 263.60,313.00 L265.40,231.40 Z" fill="url(#glass)"/>
<path d="M192.50,258.60 L195.70,313.00 A33.70,18.60 0 0 0 263.10,313.00 L264.30,258.60 Z" fill="url(#liqB)"/>
<path d="M192.50,258.60 L264.30,258.60" stroke="#ffffff" stroke-opacity="0.45" stroke-width="1.2"/>
<path d="M198.20,315.00 A31.20,11.20 0 0 0 260.60,315.00" fill="none" stroke="#ffffff" stroke-opacity="0.35" stroke-width="0.8"/>
<path d="M190.40,231.40 L195.20,313.00 A34.20,19.20 0 0 0 263.60,313.00 L265.40,231.40 Z" fill="none" stroke="#8a8e90" stroke-width="0.7"/>
<path d="M192.90,233.40 L197.70,313.00" stroke="#ffffff" stroke-opacity="0.6" stroke-width="1.6"/>
<path d="M183.50,229.40 Q188.50,230.20 190.40,234.40" fill="none" stroke="#444" stroke-width="1.0"/>
<path d="M183.50,229.40 L268.40,229.40" fill="none" stroke="#555" stroke-width="0.9"/>
<path d="M185.50,230.80 L267.40,230.80" fill="none" stroke="#c8cccd" stroke-width="1.2"/>
<path d="M268.40,229.40 Q267.40,230.90 265.40,233.40" fill="none" stroke="#666" stroke-width="0.8"/>
<text x="199.00" y="250.40" font-size="5.25" text-anchor="start" fill="#000" >New phases such as C-A-</text>
<text x="199.00" y="256.80" font-size="5.3" text-anchor="start" fill="#000" >S-H, N-A-S-H, C(N)-A-S-H</text>
<line x1="237.09" y1="272.20" x2="237.20" y2="289.44" stroke="#5a3ea0" stroke-width="0.29"/>
<line x1="225.08" y1="294.84" x2="237.20" y2="289.44" stroke="#5a3ea0" stroke-width="0.29"/>
<line x1="255.24" y1="292.55" x2="237.20" y2="289.44" stroke="#5a3ea0" stroke-width="0.29"/>
<polygon points="224.50,275.51 244.80,277.81 244.63,298.67 225.08,294.84" fill="#8c6ccf" fill-opacity="0.85" stroke="#5a3ea0" stroke-width="0.26"/>
<polygon points="244.80,277.81 255.82,274.14 255.24,292.55 244.63,298.67" fill="#7456bc" fill-opacity="0.85" stroke="#5a3ea0" stroke-width="0.26"/>
<g opacity="0.6"><circle cx="237.14" cy="280.82" r="1.63" fill="url(#gP)"/></g>
<g opacity="0.6"><circle cx="231.14" cy="292.14" r="1.63" fill="url(#gP)"/></g>
<g opacity="0.6"><circle cx="246.22" cy="290.99" r="1.63" fill="url(#gP)"/></g>
<g opacity="0.6"><circle cx="237.20" cy="289.44" r="1.63" fill="url(#gV)"/></g>
<polygon points="224.50,275.51 244.80,277.81 255.82,274.14 237.09,272.20" fill="#a08ad6" fill-opacity="0.85" stroke="#5a3ea0" stroke-width="0.26"/>
<circle cx="237.09" cy="272.20" r="1.86" fill="url(#gB)"/>
<circle cx="230.79" cy="273.86" r="1.86" fill="url(#gR)"/>
<circle cx="246.45" cy="273.17" r="1.86" fill="url(#gR)"/>
<circle cx="224.50" cy="275.51" r="1.86" fill="url(#gB)"/>
<circle cx="255.82" cy="274.14" r="1.86" fill="url(#gB)"/>
<circle cx="234.65" cy="276.66" r="2.13" fill="url(#gR)"/>
<circle cx="250.31" cy="275.97" r="2.13" fill="url(#gR)"/>
<circle cx="224.79" cy="285.18" r="1.86" fill="url(#gR)"/>
<circle cx="255.53" cy="283.34" r="1.86" fill="url(#gR)"/>
<circle cx="244.80" cy="277.81" r="2.13" fill="url(#gB)"/>
<circle cx="225.08" cy="294.84" r="1.86" fill="url(#gB)"/>
<circle cx="255.24" cy="292.55" r="1.86" fill="url(#gB)"/>
<circle cx="244.71" cy="288.24" r="2.13" fill="url(#gR)"/>
<circle cx="234.85" cy="296.76" r="2.13" fill="url(#gR)"/>
<circle cx="249.93" cy="295.61" r="2.13" fill="url(#gR)"/>
<circle cx="244.63" cy="298.67" r="2.13" fill="url(#gB)"/>
<path d="M248.68,292.77 A1.01,1.01 0 0 1 248.15,291.33 A2.19,2.19 0 0 1 249.74,288.72 A2.02,2.02 0 0 1 253.09,288.06 A2.90,2.90 0 0 1 257.48,288.75 A1.59,1.59 0 0 1 259.23,290.12 A1.61,1.61 0 0 1 259.27,292.60 A2.50,2.50 0 0 1 255.68,294.58 A2.19,2.19 0 0 1 252.14,294.52 A2.66,2.66 0 0 1 248.68,292.77 Z" fill="#cfcfcf" stroke="#5a5a5a" stroke-width="0.5" stroke-dasharray="0.9,0.5"/>
<path d="M234.22,301.28 A1.87,1.87 0 0 1 235.21,298.78 A1.81,1.81 0 0 1 238.27,298.28 A2.36,2.36 0 0 1 242.28,298.37 A2.51,2.51 0 0 1 245.99,299.92 A1.69,1.69 0 0 1 245.70,302.28 A2.01,2.01 0 0 1 243.77,304.54 A3.35,3.35 0 0 1 238.73,305.11 A2.84,2.84 0 0 1 235.07,303.73 A1.92,1.92 0 0 1 234.22,301.28 Z" fill="#cfcfcf" stroke="#5a5a5a" stroke-width="0.5" stroke-dasharray="0.9,0.5"/>
<line x1="212.85" y1="289.20" x2="212.96" y2="306.78" stroke="#5a3ea0" stroke-width="0.28"/>
<line x1="201.26" y1="312.29" x2="212.96" y2="306.78" stroke="#5a3ea0" stroke-width="0.28"/>
<line x1="230.38" y1="309.95" x2="212.96" y2="306.78" stroke="#5a3ea0" stroke-width="0.28"/>
<polygon points="200.70,292.58 220.30,294.92 220.13,316.19 201.26,312.29" fill="#8c6ccf" fill-opacity="0.85" stroke="#5a3ea0" stroke-width="0.25"/>
<polygon points="220.30,294.92 230.94,291.18 230.38,309.95 220.13,316.19" fill="#7456bc" fill-opacity="0.85" stroke="#5a3ea0" stroke-width="0.25"/>
<g opacity="0.6"><circle cx="212.91" cy="297.99" r="1.58" fill="url(#gP)"/></g>
<g opacity="0.6"><circle cx="207.11" cy="309.53" r="1.58" fill="url(#gP)"/></g>
<g opacity="0.6"><circle cx="221.67" cy="308.36" r="1.58" fill="url(#gP)"/></g>
<g opacity="0.6"><circle cx="212.96" cy="306.78" r="1.58" fill="url(#gV)"/></g>
<polygon points="200.70,292.58 220.30,294.92 230.94,291.18 212.85,289.20" fill="#a08ad6" fill-opacity="0.85" stroke="#5a3ea0" stroke-width="0.25"/>
<circle cx="212.85" cy="289.20" r="1.79" fill="url(#gB)"/>
<circle cx="206.78" cy="290.89" r="1.79" fill="url(#gR)"/>
<circle cx="221.90" cy="290.19" r="1.79" fill="url(#gR)"/>
<circle cx="200.70" cy="292.58" r="1.79" fill="url(#gB)"/>
<circle cx="230.94" cy="291.18" r="1.79" fill="url(#gB)"/>
<circle cx="210.50" cy="293.75" r="2.06" fill="url(#gR)"/>
<circle cx="225.62" cy="293.05" r="2.06" fill="url(#gR)"/>
<circle cx="200.98" cy="302.43" r="1.79" fill="url(#gR)"/>
<circle cx="230.66" cy="300.56" r="1.79" fill="url(#gR)"/>
<circle cx="220.30" cy="294.92" r="2.06" fill="url(#gB)"/>
<circle cx="201.26" cy="312.29" r="1.79" fill="url(#gB)"/>
<circle cx="230.38" cy="309.95" r="1.79" fill="url(#gB)"/>
<circle cx="220.22" cy="305.55" r="2.06" fill="url(#gR)"/>
<circle cx="210.70" cy="314.24" r="2.06" fill="url(#gR)"/>
<circle cx="225.26" cy="313.07" r="2.06" fill="url(#gR)"/>
<circle cx="220.13" cy="316.19" r="2.06" fill="url(#gB)"/>
<path d="M199.31,316.46 A2.22,2.22 0 0 1 197.26,314.00 A1.59,1.59 0 0 1 196.53,311.67 A2.61,2.61 0 0 1 199.52,309.84 A2.72,2.72 0 0 1 204.23,309.10 A2.46,2.46 0 0 1 207.34,310.52 A2.27,2.27 0 0 1 209.67,312.72 A1.84,1.84 0 0 1 207.72,315.01 A2.41,2.41 0 0 1 204.68,316.48 A3.23,3.23 0 0 1 199.31,316.46 Z" fill="#cfcfcf" stroke="#5a5a5a" stroke-width="0.5" stroke-dasharray="0.9,0.5"/>
<path d="M217.93,317.33 A1.88,1.88 0 0 1 219.02,314.40 A3.22,3.22 0 0 1 222.79,312.09 A2.56,2.56 0 0 1 226.20,312.39 A2.18,2.18 0 0 1 229.75,313.98 A2.19,2.19 0 0 1 230.74,316.96 A1.87,1.87 0 0 1 228.60,319.00 A2.17,2.17 0 0 1 225.01,319.61 A3.63,3.63 0 0 1 219.80,318.79 A1.54,1.54 0 0 1 217.93,317.33 Z" fill="#cfcfcf" stroke="#5a5a5a" stroke-width="0.5" stroke-dasharray="0.9,0.5"/>
<circle cx="214.90" cy="283.60" r="3.00" fill="url(#gLG)"/>
<circle cx="220.60" cy="284.00" r="3.00" fill="url(#gY)"/>
<circle cx="250.40" cy="271.90" r="3.00" fill="url(#gLG)"/>
<circle cx="254.60" cy="276.10" r="3.00" fill="url(#gY)"/>
<circle cx="248.20" cy="301.60" r="3.00" fill="url(#gLG)"/>
<circle cx="254.00" cy="301.60" r="3.00" fill="url(#gY)"/>
<circle cx="208.50" cy="320.10" r="3.00" fill="url(#gLG)"/>
<circle cx="214.30" cy="320.10" r="3.00" fill="url(#gY)"/>
<circle cx="201.50" cy="293.10" r="1.80" fill="url(#gP)"/>
<circle cx="247.20" cy="269.80" r="1.80" fill="url(#gP)"/>
<line x1="200.00" y1="295.40" x2="182.25" y2="318.46" stroke="#111" stroke-width="1.0"/><path d="M180.30,321.00 L181.06,317.55 L183.44,319.38 Z" fill="#111"/>
<line x1="231.30" y1="313.30" x2="233.91" y2="330.34" stroke="#111" stroke-width="1.0"/><path d="M234.40,333.50 L232.43,330.56 L235.40,330.11 Z" fill="#111"/>
<text x="125.10" y="326.60" font-size="5.26" text-anchor="start" fill="#000" >Modified crystal lattice and</text>
<text x="125.10" y="332.80" font-size="5.26" text-anchor="start" fill="#000" >formation of new minerals</text>
<text x="201.50" y="339.50" font-size="5.26" text-anchor="start" fill="#000" >New amorphous phases</text>
<text x="316.10" y="193.60" font-size="16" font-weight="bold" text-anchor="start" fill="#000" >(d)</text>
<rect x="331.0" y="205" width="19" height="140" fill="url(#barL)"/>
<rect x="664.5" y="204.5" width="19.5" height="140.5" fill="url(#barR)"/>
<text x="0.00" y="0.00" font-size="8.4" font-weight="bold" text-anchor="middle" fill="#111" transform="translate(345.2,275.2) rotate(-90)">Basic activation method</text>
<text x="0.00" y="0.00" font-size="8.35" font-weight="bold" text-anchor="middle" fill="#111" transform="translate(669.8,274.8) rotate(90)">Compound activation method</text>
<rect x="353.5" y="204.7" width="101.8" height="25.20" rx="12.60" fill="#f6f3a6"/>
<text x="404.60" y="220.80" font-size="8.9" font-weight="bold" text-anchor="middle" fill="#111" letter-spacing="-0.22" >i. Mechanical activation</text>
<rect x="353.5" y="258.4" width="101.8" height="25.00" rx="12.50" fill="#d4d9e3"/>
<text x="404.60" y="274.60" font-size="8.9" font-weight="bold" text-anchor="middle" fill="#111" letter-spacing="-0.22" >ii. Chemical activation</text>
<rect x="353.5" y="314.8" width="101.8" height="25.40" rx="12.70" fill="#e2eaf5"/>
<text x="404.60" y="330.80" font-size="8.9" font-weight="bold" text-anchor="middle" fill="#111" letter-spacing="-0.22" >iii. Thermal activation</text>
<line x1="454.90" y1="217.50" x2="521.20" y2="217.80" stroke="#fbb800" stroke-width="1.25" stroke-dasharray="5,2,1.2,2"/><path d="M518.59,219.39 L521.20,217.80 L518.61,216.19" fill="none" stroke="#fbb800" stroke-width="1.25"/><path d="M457.49,219.11 L454.90,217.50 L457.51,215.91" fill="none" stroke="#fbb800" stroke-width="1.25"/>
<line x1="454.90" y1="217.50" x2="521.20" y2="254.20" stroke="#fbb800" stroke-width="1.25" stroke-dasharray="5,2,1.2,2"/><path d="M518.15,254.34 L521.20,254.20 L519.70,251.54" fill="none" stroke="#fbb800" stroke-width="1.25"/><path d="M456.40,220.16 L454.90,217.50 L457.95,217.36" fill="none" stroke="#fbb800" stroke-width="1.25"/>
<line x1="454.90" y1="217.50" x2="520.50" y2="326.40" stroke="#fbb800" stroke-width="1.25" stroke-dasharray="5,2,1.2,2"/><path d="M517.79,325.00 L520.50,326.40 L520.53,323.35" fill="none" stroke="#fbb800" stroke-width="1.25"/><path d="M454.87,220.55 L454.90,217.50 L457.61,218.90" fill="none" stroke="#fbb800" stroke-width="1.25"/>
<line x1="454.60" y1="271.00" x2="521.20" y2="217.80" stroke="#555555" stroke-width="1.25" stroke-dasharray="5,2,1.2,2"/><path d="M520.17,220.67 L521.20,217.80 L518.17,218.17" fill="none" stroke="#555555" stroke-width="1.25"/><path d="M457.63,270.63 L454.60,271.00 L455.63,268.13" fill="none" stroke="#555555" stroke-width="1.25"/>
<line x1="454.60" y1="271.00" x2="521.20" y2="290.40" stroke="#555555" stroke-width="1.25" stroke-dasharray="5,2,1.2,2"/><path d="M518.26,291.21 L521.20,290.40 L519.15,288.14" fill="none" stroke="#555555" stroke-width="1.25"/><path d="M456.65,273.26 L454.60,271.00 L457.54,270.19" fill="none" stroke="#555555" stroke-width="1.25"/>
<line x1="454.60" y1="271.00" x2="520.50" y2="326.40" stroke="#555555" stroke-width="1.25" stroke-dasharray="5,2,1.2,2"/><path d="M517.48,325.95 L520.50,326.40 L519.54,323.50" fill="none" stroke="#555555" stroke-width="1.25"/><path d="M455.56,273.90 L454.60,271.00 L457.62,271.45" fill="none" stroke="#555555" stroke-width="1.25"/>
<line x1="454.60" y1="326.80" x2="521.20" y2="254.20" stroke="#7aaee0" stroke-width="1.25" stroke-dasharray="5,2,1.2,2"/><path d="M520.62,257.20 L521.20,254.20 L518.26,255.03" fill="none" stroke="#7aaee0" stroke-width="1.25"/><path d="M457.54,325.97 L454.60,326.80 L455.18,323.80" fill="none" stroke="#7aaee0" stroke-width="1.25"/>
<line x1="454.60" y1="326.80" x2="521.20" y2="290.40" stroke="#7aaee0" stroke-width="1.25" stroke-dasharray="5,2,1.2,2"/><path d="M519.69,293.05 L521.20,290.40 L518.15,290.24" fill="none" stroke="#7aaee0" stroke-width="1.25"/><path d="M457.65,326.96 L454.60,326.80 L456.11,324.15" fill="none" stroke="#7aaee0" stroke-width="1.25"/>
<line x1="454.60" y1="326.80" x2="520.50" y2="326.40" stroke="#7aaee0" stroke-width="1.25" stroke-dasharray="5,2,1.2,2"/><path d="M517.91,328.02 L520.50,326.40 L517.89,324.82" fill="none" stroke="#7aaee0" stroke-width="1.25"/><path d="M457.21,328.38 L454.60,326.80 L457.19,325.18" fill="none" stroke="#7aaee0" stroke-width="1.25"/>
<rect x="522" y="204" width="137" height="28.70" rx="14.35" fill="#fff" stroke="#e6eef8" stroke-width="3"/>
<rect x="522" y="204" width="137" height="28.70" rx="14.35" fill="#fff" stroke="#d2e0f0" stroke-width="0.8"/>
<circle cx="534" cy="218.35" r="6.8" fill="url(#gDot)"/>
<text x="545.00" y="221.35" font-size="8.3" font-weight="bold" text-anchor="start" fill="#111" letter-spacing="-0.25" >Mechano-chemical activation</text>
<rect x="522" y="240.8" width="137" height="27.50" rx="13.75" fill="#fff" stroke="#e6eef8" stroke-width="3"/>
<rect x="522" y="240.8" width="137" height="27.50" rx="13.75" fill="#fff" stroke="#d2e0f0" stroke-width="0.8"/>
<circle cx="534" cy="254.55" r="6.8" fill="url(#gDot)"/>
<text x="545.00" y="257.55" font-size="8.3" font-weight="bold" text-anchor="start" fill="#111" letter-spacing="-0.25" >Mechano-thermal activation</text>
<rect x="522" y="277" width="137" height="27.80" rx="13.90" fill="#fff" stroke="#e6eef8" stroke-width="3"/>
<rect x="522" y="277" width="137" height="27.80" rx="13.90" fill="#fff" stroke="#d2e0f0" stroke-width="0.8"/>
<circle cx="534" cy="290.90" r="6.8" fill="url(#gDot)"/>
<text x="545.00" y="293.90" font-size="8.3" font-weight="bold" text-anchor="start" fill="#111" letter-spacing="-0.25" >Thermo-Chemical activation</text>
<rect x="522" y="312.9" width="137" height="28.10" rx="14.05" fill="#fff" stroke="#e6eef8" stroke-width="3"/>
<rect x="522" y="312.9" width="137" height="28.10" rx="14.05" fill="#fff" stroke="#d2e0f0" stroke-width="0.8"/>
<circle cx="534" cy="326.95" r="6.8" fill="url(#gDot)"/>
<text x="598.00" y="326.40" font-size="8.3" font-weight="bold" text-anchor="middle" fill="#111" letter-spacing="-0.25" >Mechano-thermal-chemical</text>
<text x="598.00" y="335.80" font-size="8.3" font-weight="bold" text-anchor="middle" fill="#111" letter-spacing="-0.25" >activation</text>
<text x="2.00" y="362.00" font-size="16.3" font-weight="bold" text-anchor="start" fill="#000" >(e)</text>
<rect x="25.0" y="373.1" width="196.50" height="158.00" fill="none" stroke="#777" stroke-width="1.1"/>
<line x1="25.0" y1="372.6" x2="25.0" y2="531.6" stroke="#555" stroke-width="0.9"/>
<line x1="24.5" y1="531.1" x2="222.0" y2="531.1" stroke="#555" stroke-width="0.9"/>
<line x1="25.00" y1="531.1" x2="25.00" y2="528.1" stroke="#333" stroke-width="0.6"/>
<text x="25.00" y="540.20" font-size="6.9" text-anchor="middle" fill="#222" >0</text>
<line x1="49.55" y1="531.1" x2="49.55" y2="528.1" stroke="#333" stroke-width="0.6"/>
<text x="49.55" y="540.20" font-size="6.9" text-anchor="middle" fill="#222" >20</text>
<line x1="74.10" y1="531.1" x2="74.10" y2="528.1" stroke="#333" stroke-width="0.6"/>
<text x="74.10" y="540.20" font-size="6.9" text-anchor="middle" fill="#222" >40</text>
<line x1="98.65" y1="531.1" x2="98.65" y2="528.1" stroke="#333" stroke-width="0.6"/>
<text x="98.65" y="540.20" font-size="6.9" text-anchor="middle" fill="#222" >60</text>
<line x1="123.20" y1="531.1" x2="123.20" y2="528.1" stroke="#333" stroke-width="0.6"/>
<text x="123.20" y="540.20" font-size="6.9" text-anchor="middle" fill="#222" >80</text>
<line x1="147.75" y1="531.1" x2="147.75" y2="528.1" stroke="#333" stroke-width="0.6"/>
<text x="147.75" y="540.20" font-size="6.9" text-anchor="middle" fill="#222" >100</text>
<line x1="172.30" y1="531.1" x2="172.30" y2="528.1" stroke="#333" stroke-width="0.6"/>
<text x="172.30" y="540.20" font-size="6.9" text-anchor="middle" fill="#222" >120</text>
<line x1="196.85" y1="531.1" x2="196.85" y2="528.1" stroke="#333" stroke-width="0.6"/>
<text x="196.85" y="540.20" font-size="6.9" text-anchor="middle" fill="#222" >140</text>
<line x1="221.40" y1="531.1" x2="221.40" y2="528.1" stroke="#333" stroke-width="0.6"/>
<text x="221.40" y="540.20" font-size="6.9" text-anchor="middle" fill="#222" >160</text>
<line x1="37.27" y1="531.1" x2="37.27" y2="529.5" stroke="#333" stroke-width="0.6"/>
<line x1="61.83" y1="531.1" x2="61.83" y2="529.5" stroke="#333" stroke-width="0.6"/>
<line x1="86.38" y1="531.1" x2="86.38" y2="529.5" stroke="#333" stroke-width="0.6"/>
<line x1="110.92" y1="531.1" x2="110.92" y2="529.5" stroke="#333" stroke-width="0.6"/>
<line x1="135.48" y1="531.1" x2="135.48" y2="529.5" stroke="#333" stroke-width="0.6"/>
<line x1="160.03" y1="531.1" x2="160.03" y2="529.5" stroke="#333" stroke-width="0.6"/>
<line x1="184.58" y1="531.1" x2="184.58" y2="529.5" stroke="#333" stroke-width="0.6"/>
<line x1="209.12" y1="531.1" x2="209.12" y2="529.5" stroke="#333" stroke-width="0.6"/>
<line x1="25.0" y1="520.40" x2="28.0" y2="520.40" stroke="#333" stroke-width="0.6"/>
<text x="21.80" y="522.88" font-size="6.9" text-anchor="end" fill="#222" >0</text>
<line x1="25.0" y1="499.46" x2="28.0" y2="499.46" stroke="#333" stroke-width="0.6"/>
<text x="21.80" y="501.95" font-size="6.9" text-anchor="end" fill="#222" >50</text>
<line x1="25.0" y1="478.53" x2="28.0" y2="478.53" stroke="#333" stroke-width="0.6"/>
<text x="21.80" y="481.01" font-size="6.9" text-anchor="end" fill="#222" >100</text>
<line x1="25.0" y1="457.59" x2="28.0" y2="457.59" stroke="#333" stroke-width="0.6"/>
<text x="21.80" y="460.08" font-size="6.9" text-anchor="end" fill="#222" >150</text>
<line x1="25.0" y1="436.66" x2="28.0" y2="436.66" stroke="#333" stroke-width="0.6"/>
<text x="21.80" y="439.14" font-size="6.9" text-anchor="end" fill="#222" >200</text>
<line x1="25.0" y1="415.72" x2="28.0" y2="415.72" stroke="#333" stroke-width="0.6"/>
<text x="21.80" y="418.21" font-size="6.9" text-anchor="end" fill="#222" >250</text>
<line x1="25.0" y1="394.79" x2="28.0" y2="394.79" stroke="#333" stroke-width="0.6"/>
<text x="21.80" y="397.27" font-size="6.9" text-anchor="end" fill="#222" >300</text>
<line x1="25.0" y1="373.85" x2="28.0" y2="373.85" stroke="#333" stroke-width="0.6"/>
<text x="21.80" y="376.34" font-size="6.9" text-anchor="end" fill="#222" >350</text>
<line x1="25.0" y1="509.93" x2="26.6" y2="509.93" stroke="#333" stroke-width="0.6"/>
<line x1="25.0" y1="489.00" x2="26.6" y2="489.00" stroke="#333" stroke-width="0.6"/>
<line x1="25.0" y1="468.06" x2="26.6" y2="468.06" stroke="#333" stroke-width="0.6"/>
<line x1="25.0" y1="447.13" x2="26.6" y2="447.13" stroke="#333" stroke-width="0.6"/>
<line x1="25.0" y1="426.19" x2="26.6" y2="426.19" stroke="#333" stroke-width="0.6"/>
<line x1="25.0" y1="405.26" x2="26.6" y2="405.26" stroke="#333" stroke-width="0.6"/>
<line x1="25.0" y1="384.32" x2="26.6" y2="384.32" stroke="#333" stroke-width="0.6"/>
<line x1="25.0" y1="530.87" x2="26.6" y2="530.87" stroke="#333" stroke-width="0.6"/>
<text x="123.20" y="553.40" font-size="9" font-weight="bold" text-anchor="middle" fill="#000" >Grinding time (min)</text>
<text x="0.00" y="0.00" font-size="7.9" font-weight="bold" text-anchor="middle" fill="#000" transform="translate(6.0,454) rotate(-90)">Equivalent particle size (μm)</text>
<polyline points="25.00,515.58 37.27,519.14 61.83,519.56 98.65,519.56 135.48,519.56 172.30,519.56" fill="none" stroke="#000" stroke-width="1.5" stroke-linejoin="round"/>
<polyline points="25.00,494.86 37.27,512.99 61.83,517.26 98.65,517.68 135.48,518.31 172.30,518.31" fill="none" stroke="#f00" stroke-width="1.5" stroke-linejoin="round"/>
<polyline points="25.00,434.15 37.27,448.38 61.83,487.32 98.65,502.19 135.48,507.42 172.30,508.68" fill="none" stroke="#00f" stroke-width="1.5" stroke-linejoin="round"/>
<polyline points="25.00,498.42 135.48,519.02 172.30,519.14 209.12,519.14" fill="none" stroke="#000" stroke-width="1.5" stroke-dasharray="7,8" stroke-linejoin="round"/>
<polyline points="25.00,460.19 135.48,510.60 172.30,512.28 209.12,513.28" fill="none" stroke="#f00" stroke-width="1.5" stroke-dasharray="7,8" stroke-linejoin="round"/>
<polyline points="25.00,390.18 135.48,491.09 172.30,495.28 209.12,499.21" fill="none" stroke="#00f" stroke-width="1.5" stroke-dasharray="7,8" stroke-linejoin="round"/>
<polyline points="25.00,516.21 49.55,519.77 74.10,519.98 98.65,519.98 123.20,519.98" fill="none" stroke="#000" stroke-width="0.8" stroke-dasharray="1,1.2" stroke-linejoin="round"/>
<rect x="22.70" y="513.28" width="4.60" height="4.60" fill="#000" stroke="#000" stroke-width="0.9"/>
<rect x="34.98" y="516.84" width="4.60" height="4.60" fill="#000" stroke="#000" stroke-width="0.9"/>
<rect x="59.53" y="517.26" width="4.60" height="4.60" fill="#000" stroke="#000" stroke-width="0.9"/>
<rect x="96.35" y="517.26" width="4.60" height="4.60" fill="#000" stroke="#000" stroke-width="0.9"/>
<rect x="133.18" y="517.26" width="4.60" height="4.60" fill="#000" stroke="#000" stroke-width="0.9"/>
<rect x="170.00" y="517.26" width="4.60" height="4.60" fill="#000" stroke="#000" stroke-width="0.9"/>
<circle cx="25.00" cy="494.86" r="2.30" fill="#f00" stroke="#f00" stroke-width="0.9"/>
<circle cx="37.27" cy="512.99" r="2.30" fill="#f00" stroke="#f00" stroke-width="0.9"/>
<circle cx="61.83" cy="517.26" r="2.30" fill="#f00" stroke="#f00" stroke-width="0.9"/>
<circle cx="98.65" cy="517.68" r="2.30" fill="#f00" stroke="#f00" stroke-width="0.9"/>
<circle cx="135.48" cy="518.31" r="2.30" fill="#f00" stroke="#f00" stroke-width="0.9"/>
<circle cx="172.30" cy="518.31" r="2.30" fill="#f00" stroke="#f00" stroke-width="0.9"/>
<polygon points="25.00,431.27 27.75,436.30 22.25,436.30" fill="#00f" stroke="#00f" stroke-width="0.9" stroke-linejoin="miter"/>
<polygon points="37.27,445.51 40.02,450.54 34.52,450.54" fill="#00f" stroke="#00f" stroke-width="0.9" stroke-linejoin="miter"/>
<polygon points="61.83,484.45 64.58,489.48 59.08,489.48" fill="#00f" stroke="#00f" stroke-width="0.9" stroke-linejoin="miter"/>
<polygon points="98.65,499.31 101.40,504.34 95.90,504.34" fill="#00f" stroke="#00f" stroke-width="0.9" stroke-linejoin="miter"/>
<polygon points="135.48,504.55 138.23,509.58 132.73,509.58" fill="#00f" stroke="#00f" stroke-width="0.9" stroke-linejoin="miter"/>
<polygon points="172.30,505.80 175.05,510.83 169.55,510.83" fill="#00f" stroke="#00f" stroke-width="0.9" stroke-linejoin="miter"/>
<rect x="22.70" y="496.12" width="4.60" height="4.60" fill="#fff" stroke="#000" stroke-width="0.9"/>
<rect x="133.18" y="516.72" width="4.60" height="4.60" fill="#fff" stroke="#000" stroke-width="0.9"/>
<rect x="170.00" y="516.84" width="4.60" height="4.60" fill="#fff" stroke="#000" stroke-width="0.9"/>
<rect x="206.82" y="516.84" width="4.60" height="4.60" fill="#fff" stroke="#000" stroke-width="0.9"/>
<circle cx="25.00" cy="460.19" r="2.30" fill="#fff" stroke="#f00" stroke-width="0.9"/>
<circle cx="135.48" cy="510.60" r="2.30" fill="#fff" stroke="#f00" stroke-width="0.9"/>
<circle cx="172.30" cy="512.28" r="2.30" fill="#fff" stroke="#f00" stroke-width="0.9"/>
<circle cx="209.12" cy="513.28" r="2.30" fill="#fff" stroke="#f00" stroke-width="0.9"/>
<polygon points="25.00,387.31 27.75,392.34 22.25,392.34" fill="#fff" stroke="#00f" stroke-width="0.9" stroke-linejoin="miter"/>
<polygon points="135.48,488.22 138.23,493.25 132.73,493.25" fill="#fff" stroke="#00f" stroke-width="0.9" stroke-linejoin="miter"/>
<polygon points="172.30,492.40 175.05,497.43 169.55,497.43" fill="#fff" stroke="#00f" stroke-width="0.9" stroke-linejoin="miter"/>
<polygon points="209.12,496.34 211.88,501.37 206.38,501.37" fill="#fff" stroke="#00f" stroke-width="0.9" stroke-linejoin="miter"/>
<circle cx="49.55" cy="519.77" r="1.40" fill="#fff" stroke="#333" stroke-width="0.5"/><path d="M48.57,518.79 L50.53,520.75 M50.53,518.79 L48.57,520.75" stroke="#333" stroke-width="0.6"/>
<circle cx="74.10" cy="519.98" r="1.40" fill="#fff" stroke="#333" stroke-width="0.5"/><path d="M73.12,519.00 L75.08,520.96 M75.08,519.00 L73.12,520.96" stroke="#333" stroke-width="0.6"/>
<circle cx="98.65" cy="519.98" r="1.40" fill="#fff" stroke="#333" stroke-width="0.5"/><path d="M97.67,519.00 L99.63,520.96 M99.63,519.00 L97.67,520.96" stroke="#333" stroke-width="0.6"/>
<circle cx="123.20" cy="519.98" r="1.40" fill="#fff" stroke="#333" stroke-width="0.5"/><path d="M122.22,519.00 L124.18,520.96 M124.18,519.00 L122.22,520.96" stroke="#333" stroke-width="0.6"/>
<rect x="124.8" y="375.4" width="92.8" height="84" fill="#fff" stroke="#888" stroke-width="0.6"/>
<text x="127.10" y="381.30" font-size="5.35" font-weight="bold" text-anchor="start" fill="#000" >Lead-zinc tailings (Wang et al.,2022)</text>
<text x="127.10" y="415.10" font-size="5.35" font-weight="bold" text-anchor="start" fill="#000" >Iron tailings (Gu et al. 2023)</text>
<text x="127.10" y="449.30" font-size="5.35" font-weight="bold" text-anchor="start" fill="#000" >Gold tailings (Yao et al. 2019)</text>
<line x1="125.5" y1="386.6" x2="138.8" y2="386.6" stroke="#000" stroke-width="1.1"/>
<rect x="130.10" y="384.70" width="3.80" height="3.80" fill="#000" stroke="#000" stroke-width="0.8"/>
<text x="140.6" y="388.80" font-size="6" fill="#222">D<tspan font-size="4.6" dy="1.4">10</tspan></text>
<line x1="125.5" y1="395.2" x2="138.8" y2="395.2" stroke="#f00" stroke-width="1.1"/>
<circle cx="132.00" cy="395.20" r="1.90" fill="#f00" stroke="#f00" stroke-width="0.8"/>
<text x="140.6" y="397.40" font-size="6" fill="#222">D<tspan font-size="4.6" dy="1.4">50</tspan></text>
<line x1="125.5" y1="403.8" x2="138.8" y2="403.8" stroke="#00f" stroke-width="1.1"/>
<polygon points="132.00,401.62 134.09,405.44 129.91,405.44" fill="#00f" stroke="#00f" stroke-width="0.8" stroke-linejoin="miter"/>
<text x="140.6" y="406.00" font-size="6" fill="#222">D<tspan font-size="4.6" dy="1.4">90</tspan></text>
<line x1="125.5" y1="420.7" x2="138.8" y2="420.7" stroke="#000" stroke-width="1.1"/>
<rect x="130.10" y="418.80" width="3.80" height="3.80" fill="#fff" stroke="#000" stroke-width="0.8"/>
<text x="140.6" y="422.90" font-size="6" fill="#222">D<tspan font-size="4.6" dy="1.4">10</tspan></text>
<line x1="125.5" y1="429.4" x2="138.8" y2="429.4" stroke="#f00" stroke-width="1.1"/>
<circle cx="132.00" cy="429.40" r="1.90" fill="#fff" stroke="#f00" stroke-width="0.8"/>
<text x="140.6" y="431.60" font-size="6" fill="#222">D<tspan font-size="4.6" dy="1.4">50</tspan></text>
<line x1="125.5" y1="438" x2="138.8" y2="438" stroke="#00f" stroke-width="1.1"/>
<polygon points="132.00,435.81 134.09,439.64 129.91,439.64" fill="#fff" stroke="#00f" stroke-width="0.8" stroke-linejoin="miter"/>
<text x="140.6" y="440.20" font-size="6" fill="#222">D<tspan font-size="4.6" dy="1.4">90</tspan></text>
<line x1="126" y1="454.6" x2="138" y2="454.6" stroke="#000" stroke-width="0.7" stroke-dasharray="0.8,1"/>
<circle cx="132.00" cy="454.60" r="1.40" fill="#fff" stroke="#333" stroke-width="0.5"/><path d="M131.02,453.62 L132.98,455.58 M132.98,453.62 L131.02,455.58" stroke="#333" stroke-width="0.6"/>
<text x="140.6" y="456.80" font-size="6" fill="#222">D<tspan font-size="4.6" dy="1.4">10</tspan></text>
<text x="228.60" y="362.00" font-size="16.3" font-weight="bold" text-anchor="start" fill="#000" >(f)</text>
<rect x="260.4" y="373.9" width="196.00" height="157.20" fill="none" stroke="#777" stroke-width="1.1"/>
<line x1="260.4" y1="373.4" x2="260.4" y2="531.6" stroke="#555" stroke-width="0.9"/>
<line x1="259.9" y1="531.1" x2="456.9" y2="531.1" stroke="#555" stroke-width="0.9"/>
<line x1="260.40" y1="531.1" x2="260.40" y2="528.1" stroke="#333" stroke-width="0.6"/>
<text x="260.40" y="540.20" font-size="6.3" text-anchor="middle" fill="#222" >0</text>
<line x1="293.06" y1="531.1" x2="293.06" y2="528.1" stroke="#333" stroke-width="0.6"/>
<text x="293.06" y="540.20" font-size="6.3" text-anchor="middle" fill="#222" >50</text>
<line x1="325.73" y1="531.1" x2="325.73" y2="528.1" stroke="#333" stroke-width="0.6"/>
<text x="325.73" y="540.20" font-size="6.3" text-anchor="middle" fill="#222" >100</text>
<line x1="358.39" y1="531.1" x2="358.39" y2="528.1" stroke="#333" stroke-width="0.6"/>
<text x="358.39" y="540.20" font-size="6.3" text-anchor="middle" fill="#222" >150</text>
<line x1="391.06" y1="531.1" x2="391.06" y2="528.1" stroke="#333" stroke-width="0.6"/>
<text x="391.06" y="540.20" font-size="6.3" text-anchor="middle" fill="#222" >200</text>
<line x1="423.72" y1="531.1" x2="423.72" y2="528.1" stroke="#333" stroke-width="0.6"/>
<text x="423.72" y="540.20" font-size="6.3" text-anchor="middle" fill="#222" >250</text>
<line x1="456.39" y1="531.1" x2="456.39" y2="528.1" stroke="#333" stroke-width="0.6"/>
<text x="456.39" y="540.20" font-size="6.3" text-anchor="middle" fill="#222" >300</text>
<line x1="276.73" y1="531.1" x2="276.73" y2="529.5" stroke="#333" stroke-width="0.6"/>
<line x1="309.40" y1="531.1" x2="309.40" y2="529.5" stroke="#333" stroke-width="0.6"/>
<line x1="342.06" y1="531.1" x2="342.06" y2="529.5" stroke="#333" stroke-width="0.6"/>
<line x1="374.73" y1="531.1" x2="374.73" y2="529.5" stroke="#333" stroke-width="0.6"/>
<line x1="407.39" y1="531.1" x2="407.39" y2="529.5" stroke="#333" stroke-width="0.6"/>
<line x1="440.06" y1="531.1" x2="440.06" y2="529.5" stroke="#333" stroke-width="0.6"/>
<line x1="260.4" y1="531.10" x2="263.4" y2="531.10" stroke="#333" stroke-width="0.6"/>
<text x="256.80" y="533.37" font-size="6.3" text-anchor="end" fill="#222" >40</text>
<line x1="260.4" y1="511.45" x2="263.4" y2="511.45" stroke="#333" stroke-width="0.6"/>
<text x="256.80" y="513.72" font-size="6.3" text-anchor="end" fill="#222" >45</text>
<line x1="260.4" y1="491.80" x2="263.4" y2="491.80" stroke="#333" stroke-width="0.6"/>
<text x="256.80" y="494.07" font-size="6.3" text-anchor="end" fill="#222" >50</text>
<line x1="260.4" y1="472.15" x2="263.4" y2="472.15" stroke="#333" stroke-width="0.6"/>
<text x="256.80" y="474.42" font-size="6.3" text-anchor="end" fill="#222" >55</text>
<line x1="260.4" y1="452.50" x2="263.4" y2="452.50" stroke="#333" stroke-width="0.6"/>
<text x="256.80" y="454.77" font-size="6.3" text-anchor="end" fill="#222" >60</text>
<line x1="260.4" y1="432.85" x2="263.4" y2="432.85" stroke="#333" stroke-width="0.6"/>
<text x="256.80" y="435.12" font-size="6.3" text-anchor="end" fill="#222" >65</text>
<line x1="260.4" y1="413.20" x2="263.4" y2="413.20" stroke="#333" stroke-width="0.6"/>
<text x="256.80" y="415.47" font-size="6.3" text-anchor="end" fill="#222" >70</text>
<line x1="260.4" y1="393.55" x2="263.4" y2="393.55" stroke="#333" stroke-width="0.6"/>
<text x="256.80" y="395.82" font-size="6.3" text-anchor="end" fill="#222" >75</text>
<line x1="260.4" y1="373.90" x2="263.4" y2="373.90" stroke="#333" stroke-width="0.6"/>
<text x="256.80" y="376.17" font-size="6.3" text-anchor="end" fill="#222" >80</text>
<line x1="260.4" y1="521.27" x2="262.0" y2="521.27" stroke="#333" stroke-width="0.6"/>
<line x1="260.4" y1="501.62" x2="262.0" y2="501.62" stroke="#333" stroke-width="0.6"/>
<line x1="260.4" y1="481.97" x2="262.0" y2="481.97" stroke="#333" stroke-width="0.6"/>
<line x1="260.4" y1="462.32" x2="262.0" y2="462.32" stroke="#333" stroke-width="0.6"/>
<line x1="260.4" y1="442.67" x2="262.0" y2="442.67" stroke="#333" stroke-width="0.6"/>
<line x1="260.4" y1="423.02" x2="262.0" y2="423.02" stroke="#333" stroke-width="0.6"/>
<line x1="260.4" y1="403.38" x2="262.0" y2="403.38" stroke="#333" stroke-width="0.6"/>
<line x1="260.4" y1="383.72" x2="262.0" y2="383.72" stroke="#333" stroke-width="0.6"/>
<text x="358.40" y="553.40" font-size="9" font-weight="bold" text-anchor="middle" fill="#000" >Grinding time (min)</text>
<text x="0.00" y="0.00" font-size="9.0" font-weight="bold" text-anchor="middle" fill="#000" transform="translate(247.0,452) rotate(-90)">Pozzolanic activity index (%)</text>
<polyline points="260.40,454.86 299.60,447.78 338.80,437.57 377.99,406.52 397.59,395.12 417.19,408.88" fill="none" stroke="#000" stroke-width="1.5" stroke-linejoin="round"/>
<polyline points="260.40,470.19 299.60,464.68 338.80,458.39 377.99,450.14 397.59,438.35 417.19,450.14" fill="none" stroke="#f00" stroke-width="1.5" stroke-dasharray="7,5" stroke-linejoin="round"/>
<polyline points="280.00,512.24 299.60,507.91 319.20,476.47 338.80,456.43" fill="none" stroke="#00f" stroke-width="1.5" stroke-dasharray="1.5,3.5" stroke-linejoin="round"/>
<polyline points="280.00,484.73 299.60,456.43 319.20,441.50 338.80,423.81" fill="none" stroke="#f0f" stroke-width="1.5" stroke-dasharray="7,2.5,1.5,2.5" stroke-linejoin="round"/>
<polyline points="280.00,464.29 299.60,444.64 319.20,419.88 338.80,412.41" fill="none" stroke="#808000" stroke-width="1.5" stroke-dasharray="6,2,1.5,2,1.5,2" stroke-linejoin="round"/>
<polyline points="280.00,483.55 299.60,476.47 319.20,469.79" fill="none" stroke="#000080" stroke-width="1.5" stroke-dasharray="4,2.5" stroke-linejoin="round"/>
<polyline points="280.00,492.98 299.60,469.79 319.20,448.57" fill="none" stroke="#800080" stroke-width="1.5" stroke-dasharray="1.2,1.3" stroke-linejoin="round"/>
<polyline points="280.00,443.46 299.60,432.85 319.20,421.06" fill="none" stroke="#800000" stroke-width="1.5" stroke-dasharray="6,2.5,1.5,2.5" stroke-linejoin="round"/>
<rect x="258.00" y="452.46" width="4.80" height="4.80" fill="#000" stroke="#000" stroke-width="0.5"/>
<rect x="297.20" y="445.38" width="4.80" height="4.80" fill="#000" stroke="#000" stroke-width="0.5"/>
<rect x="336.40" y="435.17" width="4.80" height="4.80" fill="#000" stroke="#000" stroke-width="0.5"/>
<rect x="375.59" y="404.12" width="4.80" height="4.80" fill="#000" stroke="#000" stroke-width="0.5"/>
<rect x="395.19" y="392.72" width="4.80" height="4.80" fill="#000" stroke="#000" stroke-width="0.5"/>
<rect x="414.79" y="406.48" width="4.80" height="4.80" fill="#000" stroke="#000" stroke-width="0.5"/>
<polygon points="260.40,466.74 263.70,472.77 257.10,472.77" fill="#f00" stroke="#f00" stroke-width="0.5" stroke-linejoin="miter"/>
<polygon points="299.60,461.23 302.90,467.27 296.30,467.27" fill="#f00" stroke="#f00" stroke-width="0.5" stroke-linejoin="miter"/>
<polygon points="338.80,454.94 342.10,460.98 335.50,460.98" fill="#f00" stroke="#f00" stroke-width="0.5" stroke-linejoin="miter"/>
<polygon points="377.99,446.69 381.29,452.73 374.69,452.73" fill="#f00" stroke="#f00" stroke-width="0.5" stroke-linejoin="miter"/>
<polygon points="397.59,434.90 400.89,440.94 394.29,440.94" fill="#f00" stroke="#f00" stroke-width="0.5" stroke-linejoin="miter"/>
<polygon points="417.19,446.69 420.49,452.73 413.89,452.73" fill="#f00" stroke="#f00" stroke-width="0.5" stroke-linejoin="miter"/>
<circle cx="280.00" cy="512.24" r="2.50" fill="#00f" stroke="#00f" stroke-width="0.5"/>
<circle cx="299.60" cy="507.91" r="2.50" fill="#00f" stroke="#00f" stroke-width="0.5"/>
<circle cx="319.20" cy="476.47" r="2.50" fill="#00f" stroke="#00f" stroke-width="0.5"/>
<circle cx="338.80" cy="456.43" r="2.50" fill="#00f" stroke="#00f" stroke-width="0.5"/>
<polygon points="280.00,487.72 282.86,482.48 277.14,482.48" fill="#f0f" stroke="#f0f" stroke-width="0.5"/>
<polygon points="299.60,459.42 302.46,454.19 296.74,454.19" fill="#f0f" stroke="#f0f" stroke-width="0.5"/>
<polygon points="319.20,444.49 322.06,439.25 316.34,439.25" fill="#f0f" stroke="#f0f" stroke-width="0.5"/>
<polygon points="338.80,426.80 341.66,421.57 335.94,421.57" fill="#f0f" stroke="#f0f" stroke-width="0.5"/>
<polygon points="280.00,461.30 282.99,464.29 280.00,467.28 277.01,464.29" fill="#808000" stroke="#808000" stroke-width="0.5"/>
<polygon points="299.60,441.65 302.59,444.64 299.60,447.63 296.61,444.64" fill="#808000" stroke="#808000" stroke-width="0.5"/>
<polygon points="319.20,416.89 322.19,419.88 319.20,422.87 316.21,419.88" fill="#808000" stroke="#808000" stroke-width="0.5"/>
<polygon points="338.80,409.42 341.79,412.41 338.80,415.40 335.81,412.41" fill="#808000" stroke="#808000" stroke-width="0.5"/>
<polygon points="277.47,483.55 281.90,481.13 281.90,485.97" fill="#000080" stroke="#000080" stroke-width="0.5"/>
<polygon points="297.07,476.47 301.50,474.05 301.50,478.89" fill="#000080" stroke="#000080" stroke-width="0.5"/>
<polygon points="316.67,469.79 321.09,467.37 321.09,472.21" fill="#000080" stroke="#000080" stroke-width="0.5"/>
<polygon points="282.41,492.98 278.19,490.67 278.19,495.29" fill="#800080" stroke="#800080" stroke-width="0.5"/>
<polygon points="302.01,469.79 297.79,467.48 297.79,472.10" fill="#800080" stroke="#800080" stroke-width="0.5"/>
<polygon points="321.61,448.57 317.39,446.26 317.39,450.88" fill="#800080" stroke="#800080" stroke-width="0.5"/>
<circle cx="280.00" cy="443.46" r="1.90" fill="#800000" stroke="#800000" stroke-width="0.5"/>
<circle cx="299.60" cy="432.85" r="1.90" fill="#800000" stroke="#800000" stroke-width="0.5"/>
<circle cx="319.20" cy="421.06" r="1.90" fill="#800000" stroke="#800000" stroke-width="0.5"/>
<rect x="360.1" y="456.7" width="93" height="71.4" fill="#fff" stroke="#888" stroke-width="0.6"/>
<text x="361.10" y="462.50" font-size="5.3" font-weight="bold" text-anchor="start" fill="#111" >Iron tailings (Gu et al. 2022)</text>
<text x="361.10" y="482.10" font-size="5.3" font-weight="bold" text-anchor="start" fill="#111" >Lead-Zinc tailings (Wang et al., 2022)</text>
<text x="361.10" y="507.80" font-size="5.3" font-weight="bold" text-anchor="start" fill="#111" >Copper tailings (Liu et al., 2018)</text>
<line x1="360.6" y1="467.1" x2="373.1" y2="467.1" stroke="#000" stroke-width="1.4"/>
<rect x="365.00" y="465.30" width="3.60" height="3.60" fill="#000" stroke="#000" stroke-width="0.4"/>
<text x="374.10" y="469.10" font-size="5.6" text-anchor="start" fill="#222" >7 days</text>
<line x1="360.6" y1="473.2" x2="373.1" y2="473.2" stroke="#f00" stroke-width="1.4" stroke-dasharray="2.5,1.2"/>
<polygon points="366.80,471.13 368.78,474.75 364.82,474.75" fill="#f00" stroke="#f00" stroke-width="0.4" stroke-linejoin="miter"/>
<text x="374.10" y="475.20" font-size="5.6" text-anchor="start" fill="#222" >28 days</text>
<line x1="360.6" y1="486.2" x2="373.1" y2="486.2" stroke="#00f" stroke-width="1.4" stroke-dasharray="1,1.2"/>
<circle cx="366.80" cy="486.20" r="1.80" fill="#00f" stroke="#00f" stroke-width="0.4"/>
<text x="374.10" y="488.20" font-size="5.6" text-anchor="start" fill="#222" >3 days</text>
<line x1="360.6" y1="492.5" x2="373.1" y2="492.5" stroke="#f0f" stroke-width="1.4" stroke-dasharray="2.5,1,0.8,1"/>
<polygon points="366.80,494.57 368.78,490.95 364.82,490.95" fill="#f0f" stroke="#f0f" stroke-width="0.4"/>
<text x="374.10" y="494.50" font-size="5.6" text-anchor="start" fill="#222" >7 days</text>
<line x1="360.6" y1="499" x2="373.1" y2="499" stroke="#808000" stroke-width="1.4" stroke-dasharray="2.5,1,0.8,1"/>
<polygon points="366.80,496.66 369.14,499.00 366.80,501.34 364.46,499.00" fill="#808000" stroke="#808000" stroke-width="0.4"/>
<text x="374.10" y="501.00" font-size="5.6" text-anchor="start" fill="#222" >28 days</text>
<line x1="360.6" y1="511.9" x2="373.1" y2="511.9" stroke="#000080" stroke-width="1.4" stroke-dasharray="2.5,1.2"/>
<polygon points="364.73,511.90 368.35,509.92 368.35,513.88" fill="#000080" stroke="#000080" stroke-width="0.4"/>
<text x="374.10" y="513.90" font-size="5.6" text-anchor="start" fill="#222" >3 days</text>
<line x1="360.6" y1="518.2" x2="373.1" y2="518.2" stroke="#800080" stroke-width="1.4" stroke-dasharray="0.8,1"/>
<polygon points="368.87,518.20 365.25,516.22 365.25,520.18" fill="#800080" stroke="#800080" stroke-width="0.4"/>
<text x="374.10" y="520.20" font-size="5.6" text-anchor="start" fill="#222" >28 days</text>
<line x1="360.6" y1="524.9" x2="373.1" y2="524.9" stroke="#800000" stroke-width="1.4" stroke-dasharray="2.5,1,0.8,1"/>
<circle cx="366.80" cy="524.90" r="1.80" fill="#800000" stroke="#800000" stroke-width="0.4"/>
<text x="374.10" y="526.90" font-size="5.6" text-anchor="start" fill="#222" >90 days</text>
<text x="458.60" y="362.00" font-size="16" font-weight="bold" text-anchor="start" fill="#000" >(g)</text>
<rect x="499.4" y="445.2" width="19.4" height="84.1" fill="#e3e3e3" stroke="#f08c8c" stroke-width="0.7" stroke-dasharray="2.2,1.5"/>
<rect x="490.4" y="373.1" width="193.80" height="156.20" fill="none" stroke="#888" stroke-width="1.1"/>
<line x1="490.4" y1="372.6" x2="490.4" y2="529.8" stroke="#555" stroke-width="0.9"/>
<line x1="489.9" y1="529.3" x2="684.7" y2="529.3" stroke="#555" stroke-width="0.9"/>
<line x1="504.30" y1="529.3" x2="504.30" y2="526.3" stroke="#333" stroke-width="0.6"/>
<text x="504.30" y="538.70" font-size="6.8" text-anchor="middle" fill="#222" >0</text>
<line x1="532.01" y1="529.3" x2="532.01" y2="526.3" stroke="#333" stroke-width="0.6"/>
<text x="532.01" y="538.70" font-size="6.8" text-anchor="middle" fill="#222" >50</text>
<line x1="559.73" y1="529.3" x2="559.73" y2="526.3" stroke="#333" stroke-width="0.6"/>
<text x="559.73" y="538.70" font-size="6.8" text-anchor="middle" fill="#222" >100</text>
<line x1="587.45" y1="529.3" x2="587.45" y2="526.3" stroke="#333" stroke-width="0.6"/>
<text x="587.45" y="538.70" font-size="6.8" text-anchor="middle" fill="#222" >150</text>
<line x1="615.16" y1="529.3" x2="615.16" y2="526.3" stroke="#333" stroke-width="0.6"/>
<text x="615.16" y="538.70" font-size="6.8" text-anchor="middle" fill="#222" >200</text>
<line x1="642.88" y1="529.3" x2="642.88" y2="526.3" stroke="#333" stroke-width="0.6"/>
<text x="642.88" y="538.70" font-size="6.8" text-anchor="middle" fill="#222" >250</text>
<line x1="670.59" y1="529.3" x2="670.59" y2="526.3" stroke="#333" stroke-width="0.6"/>
<text x="670.59" y="538.70" font-size="6.8" text-anchor="middle" fill="#222" >300</text>
<line x1="518.16" y1="529.3" x2="518.16" y2="527.6999999999999" stroke="#333" stroke-width="0.6"/>
<line x1="545.87" y1="529.3" x2="545.87" y2="527.6999999999999" stroke="#333" stroke-width="0.6"/>
<line x1="573.59" y1="529.3" x2="573.59" y2="527.6999999999999" stroke="#333" stroke-width="0.6"/>
<line x1="601.30" y1="529.3" x2="601.30" y2="527.6999999999999" stroke="#333" stroke-width="0.6"/>
<line x1="629.02" y1="529.3" x2="629.02" y2="527.6999999999999" stroke="#333" stroke-width="0.6"/>
<line x1="656.73" y1="529.3" x2="656.73" y2="527.6999999999999" stroke="#333" stroke-width="0.6"/>
<line x1="490.4" y1="529.30" x2="493.4" y2="529.30" stroke="#333" stroke-width="0.6"/>
<text x="487.50" y="531.75" font-size="6.8" text-anchor="end" fill="#222" >0</text>
<line x1="490.4" y1="498.06" x2="493.4" y2="498.06" stroke="#333" stroke-width="0.6"/>
<text x="487.50" y="500.51" font-size="6.8" text-anchor="end" fill="#222" >10</text>
<line x1="490.4" y1="466.82" x2="493.4" y2="466.82" stroke="#333" stroke-width="0.6"/>
<text x="487.50" y="469.27" font-size="6.8" text-anchor="end" fill="#222" >20</text>
<line x1="490.4" y1="435.58" x2="493.4" y2="435.58" stroke="#333" stroke-width="0.6"/>
<text x="487.50" y="438.03" font-size="6.8" text-anchor="end" fill="#222" >30</text>
<line x1="490.4" y1="404.34" x2="493.4" y2="404.34" stroke="#333" stroke-width="0.6"/>
<text x="487.50" y="406.79" font-size="6.8" text-anchor="end" fill="#222" >40</text>
<line x1="490.4" y1="373.10" x2="493.4" y2="373.10" stroke="#333" stroke-width="0.6"/>
<text x="487.50" y="375.55" font-size="6.8" text-anchor="end" fill="#222" >50</text>
<line x1="490.4" y1="513.68" x2="492.0" y2="513.68" stroke="#333" stroke-width="0.6"/>
<line x1="490.4" y1="482.44" x2="492.0" y2="482.44" stroke="#333" stroke-width="0.6"/>
<line x1="490.4" y1="451.20" x2="492.0" y2="451.20" stroke="#333" stroke-width="0.6"/>
<line x1="490.4" y1="419.96" x2="492.0" y2="419.96" stroke="#333" stroke-width="0.6"/>
<line x1="490.4" y1="388.72" x2="492.0" y2="388.72" stroke="#333" stroke-width="0.6"/>
<text x="587.20" y="552.20" font-size="8.9" font-weight="bold" text-anchor="middle" fill="#000" >Grinding time (min)</text>
<text x="0.00" y="0.00" font-size="8.85" font-weight="bold" text-anchor="middle" fill="#000" transform="translate(476.6,450.9) rotate(-90)">Elemental release in NaOH (wt %)</text>
<polyline points="504.85,522.11 505.41,512.12 506.52,496.81 508.73,478.07 513.17,450.89" fill="none" stroke="#222" stroke-width="1.6" stroke-linejoin="round"/>
<polyline points="504.85,521.80 505.41,521.49 506.52,514.93 508.73,503.06 513.17,491.19" fill="none" stroke="#222" stroke-width="1.6" stroke-linejoin="round"/>
<polyline points="504.85,524.61 505.41,522.11 506.52,517.74 508.73,509.62 513.17,499.00" fill="none" stroke="#e33" stroke-width="1.6" stroke-linejoin="round"/>
<polyline points="504.85,527.74 505.41,525.24 506.52,520.87 508.73,517.43 513.17,509.31" fill="none" stroke="#e33" stroke-width="1.6" stroke-linejoin="round"/>
<rect x="503.41" y="510.12" width="4.00" height="4.00" fill="#e3e3e3" stroke="#222" stroke-width="0.7"/>
<rect x="504.52" y="494.81" width="4.00" height="4.00" fill="#e3e3e3" stroke="#222" stroke-width="0.7"/>
<rect x="506.73" y="476.07" width="4.00" height="4.00" fill="#e3e3e3" stroke="#222" stroke-width="0.7"/>
<rect x="511.17" y="448.89" width="4.00" height="4.00" fill="#e3e3e3" stroke="#222" stroke-width="0.7"/>
<circle cx="505.41" cy="521.49" r="2.00" fill="#e3e3e3" stroke="#222" stroke-width="0.7"/>
<circle cx="506.52" cy="514.93" r="2.00" fill="#e3e3e3" stroke="#222" stroke-width="0.7"/>
<circle cx="508.73" cy="503.06" r="2.00" fill="#e3e3e3" stroke="#222" stroke-width="0.7"/>
<circle cx="513.17" cy="491.19" r="2.00" fill="#e3e3e3" stroke="#222" stroke-width="0.7"/>
<circle cx="505.41" cy="522.11" r="2.00" fill="#e3e3e3" stroke="#e33" stroke-width="0.7"/>
<circle cx="506.52" cy="517.74" r="2.00" fill="#e3e3e3" stroke="#e33" stroke-width="0.7"/>
<circle cx="508.73" cy="509.62" r="2.00" fill="#e3e3e3" stroke="#e33" stroke-width="0.7"/>
<circle cx="513.17" cy="499.00" r="2.00" fill="#e3e3e3" stroke="#e33" stroke-width="0.7"/>
<rect x="503.41" y="523.24" width="4.00" height="4.00" fill="#e3e3e3" stroke="#e33" stroke-width="0.7"/>
<rect x="504.52" y="518.87" width="4.00" height="4.00" fill="#e3e3e3" stroke="#e33" stroke-width="0.7"/>
<rect x="506.73" y="515.43" width="4.00" height="4.00" fill="#e3e3e3" stroke="#e33" stroke-width="0.7"/>
<rect x="511.17" y="507.31" width="4.00" height="4.00" fill="#e3e3e3" stroke="#e33" stroke-width="0.7"/>
<polyline points="504.30,512.74 537.56,498.68 587.45,483.69 620.70,478.07 670.59,458.39" fill="none" stroke="#000" stroke-width="1.7" stroke-dasharray="2,6.8" stroke-linejoin="round"/>
<polyline points="504.30,523.68 537.56,516.18 587.45,509.93 620.70,504.31 670.59,499.00" fill="none" stroke="#f00" stroke-width="1.7" stroke-dasharray="2,6.8" stroke-linejoin="round"/>
<polygon points="504.30,509.75 507.16,514.99 501.44,514.99" fill="#fff" stroke="#222" stroke-width="0.7" stroke-linejoin="miter"/>
<polygon points="537.56,495.69 540.42,500.93 534.70,500.93" fill="#fff" stroke="#222" stroke-width="0.7" stroke-linejoin="miter"/>
<polygon points="587.45,480.70 590.31,485.93 584.59,485.93" fill="#fff" stroke="#222" stroke-width="0.7" stroke-linejoin="miter"/>
<polygon points="620.70,475.08 623.56,480.31 617.84,480.31" fill="#fff" stroke="#222" stroke-width="0.7" stroke-linejoin="miter"/>
<polygon points="670.59,455.40 673.45,460.63 667.73,460.63" fill="#fff" stroke="#222" stroke-width="0.7" stroke-linejoin="miter"/>
<polygon points="504.30,520.69 507.16,525.92 501.44,525.92" fill="#fff" stroke="#f00" stroke-width="0.7" stroke-linejoin="miter"/>
<polygon points="537.56,513.19 540.42,518.42 534.70,518.42" fill="#fff" stroke="#f00" stroke-width="0.7" stroke-linejoin="miter"/>
<polygon points="587.45,506.94 590.31,512.17 584.59,512.17" fill="#fff" stroke="#f00" stroke-width="0.7" stroke-linejoin="miter"/>
<polygon points="620.70,501.32 623.56,506.55 617.84,506.55" fill="#fff" stroke="#f00" stroke-width="0.7" stroke-linejoin="miter"/>
<polygon points="670.59,496.01 673.45,501.24 667.73,501.24" fill="#fff" stroke="#f00" stroke-width="0.7" stroke-linejoin="miter"/>
<line x1="523.20" y1="484.90" x2="562.98" y2="461.57" stroke="#f06060" stroke-width="0.7"/><path d="M566.00,459.80 L563.74,462.86 L562.22,460.28 Z" fill="#f06060"/>
<rect x="531.1" y="378.1" width="77.2" height="69.2" fill="#fff" stroke="#555" stroke-width="0.5"/>
<polyline points="535.55,441.15 540.00,433.15 548.90,420.90 566.70,405.90 602.30,384.15" fill="none" stroke="#444" stroke-width="0.6" stroke-linejoin="round"/>
<rect x="534.85" y="440.45" width="1.4" height="1.4" fill="#444"/>
<rect x="539.30" y="432.45" width="1.4" height="1.4" fill="#444"/>
<rect x="548.20" y="420.20" width="1.4" height="1.4" fill="#444"/>
<rect x="566.00" y="405.20" width="1.4" height="1.4" fill="#444"/>
<rect x="601.60" y="383.45" width="1.4" height="1.4" fill="#444"/>
<polyline points="535.55,440.90 540.00,440.65 548.90,435.40 566.70,425.90 602.30,416.40" fill="none" stroke="#444" stroke-width="0.6" stroke-linejoin="round"/>
<rect x="534.85" y="440.20" width="1.4" height="1.4" fill="#444"/>
<rect x="539.30" y="439.95" width="1.4" height="1.4" fill="#444"/>
<rect x="548.20" y="434.70" width="1.4" height="1.4" fill="#444"/>
<rect x="566.00" y="425.20" width="1.4" height="1.4" fill="#444"/>
<rect x="601.60" y="415.70" width="1.4" height="1.4" fill="#444"/>
<polyline points="535.55,443.15 540.00,441.15 548.90,437.65 566.70,431.15 602.30,422.65" fill="none" stroke="#f44" stroke-width="0.6" stroke-linejoin="round"/>
<rect x="534.85" y="442.45" width="1.4" height="1.4" fill="#f44"/>
<rect x="539.30" y="440.45" width="1.4" height="1.4" fill="#f44"/>
<rect x="548.20" y="436.95" width="1.4" height="1.4" fill="#f44"/>
<rect x="566.00" y="430.45" width="1.4" height="1.4" fill="#f44"/>
<rect x="601.60" y="421.95" width="1.4" height="1.4" fill="#f44"/>
<polyline points="535.55,445.65 540.00,443.65 548.90,440.15 566.70,437.40 602.30,430.90" fill="none" stroke="#f44" stroke-width="0.6" stroke-linejoin="round"/>
<rect x="534.85" y="444.95" width="1.4" height="1.4" fill="#f44"/>
<rect x="539.30" y="442.95" width="1.4" height="1.4" fill="#f44"/>
<rect x="548.20" y="439.45" width="1.4" height="1.4" fill="#f44"/>
<rect x="566.00" y="436.70" width="1.4" height="1.4" fill="#f44"/>
<rect x="601.60" y="430.20" width="1.4" height="1.4" fill="#f44"/>
<text x="531.10" y="451.50" font-size="2.2" text-anchor="middle" fill="#555" >0.0</text>
<text x="542.50" y="451.50" font-size="2.2" text-anchor="middle" fill="#555" >2.5</text>
<text x="553.90" y="451.50" font-size="2.2" text-anchor="middle" fill="#555" >5.0</text>
<text x="565.30" y="451.50" font-size="2.2" text-anchor="middle" fill="#555" >7.5</text>
<text x="576.70" y="451.50" font-size="2.2" text-anchor="middle" fill="#555" >10.0</text>
<text x="588.10" y="451.50" font-size="2.2" text-anchor="middle" fill="#555" >12.5</text>
<text x="599.50" y="451.50" font-size="2.2" text-anchor="middle" fill="#555" >15.0</text>
<text x="610.90" y="451.50" font-size="2.2" text-anchor="middle" fill="#555" >17.5</text>
<text x="529.80" y="447.60" font-size="2.2" text-anchor="end" fill="#555" >0</text>
<text x="529.80" y="435.10" font-size="2.2" text-anchor="end" fill="#555" >5</text>
<text x="529.80" y="422.60" font-size="2.2" text-anchor="end" fill="#555" >10</text>
<text x="529.80" y="410.10" font-size="2.2" text-anchor="end" fill="#555" >15</text>
<text x="529.80" y="397.60" font-size="2.2" text-anchor="end" fill="#555" >20</text>
<text x="529.80" y="385.10" font-size="2.2" text-anchor="end" fill="#555" >25</text>
<text x="569.70" y="455.20" font-size="2.6" text-anchor="middle" fill="#444" >Grinding time (min)</text>
<text x="0.00" y="0.00" font-size="2.4" text-anchor="middle" fill="#444" transform="translate(526.5,412.7) rotate(-90)">Elemental release in NaOH (wt %)</text>
<rect x="622.2" y="375.6" width="58.7" height="78" fill="#fff" stroke="#888" stroke-width="0.6"/>
<text x="623.10" y="380.70" font-size="5.2" font-weight="bold" text-anchor="start" fill="#111" >Type I Silicate tailings</text>
<text x="623.10" y="387.00" font-size="5.2" font-weight="bold" text-anchor="start" fill="#111" >(Perumal et al., 2020)</text>
<text x="623.10" y="407.20" font-size="5.2" font-weight="bold" text-anchor="start" fill="#111" >Type II Silicate tailings</text>
<text x="623.10" y="413.20" font-size="5.2" font-weight="bold" text-anchor="start" fill="#111" >(Perumal et al., 2020)</text>
<text x="623.10" y="432.80" font-size="5.2" font-weight="bold" text-anchor="start" fill="#111" >Vanadium tailings</text>
<text x="623.10" y="439.20" font-size="5.2" font-weight="bold" text-anchor="start" fill="#111" > (Wei et al. 2017)</text>
<line x1="622.6" y1="391.9" x2="632.5" y2="391.9" stroke="#111" stroke-width="1.1"/>
<rect x="625.90" y="389.90" width="4.00" height="4.00" fill="#fff" stroke="#111" stroke-width="0.75"/>
<text x="634.20" y="393.90" font-size="5.4" font-weight="bold" text-anchor="start" fill="#111" >Al</text>
<line x1="622.6" y1="398" x2="632.5" y2="398" stroke="#f00" stroke-width="1.1"/>
<rect x="625.90" y="396.00" width="4.00" height="4.00" fill="#fff" stroke="#f00" stroke-width="0.75"/>
<text x="634.20" y="400.00" font-size="5.4" font-weight="bold" text-anchor="start" fill="#111" >Si</text>
<line x1="622.6" y1="417.7" x2="632.5" y2="417.7" stroke="#111" stroke-width="1.1"/>
<circle cx="627.90" cy="417.70" r="2.00" fill="#fff" stroke="#111" stroke-width="0.75"/>
<text x="634.20" y="419.70" font-size="5.4" font-weight="bold" text-anchor="start" fill="#111" >Al</text>
<line x1="622.6" y1="424.3" x2="632.5" y2="424.3" stroke="#f00" stroke-width="1.1"/>
<circle cx="627.90" cy="424.30" r="2.00" fill="#fff" stroke="#f00" stroke-width="0.75"/>
<text x="634.20" y="426.30" font-size="5.4" font-weight="bold" text-anchor="start" fill="#111" >Si</text>
<line x1="622.6" y1="443.7" x2="632.5" y2="443.7" stroke="#111" stroke-width="1.1" stroke-dasharray="1.5,1"/>
<polygon points="627.90,441.40 630.10,445.43 625.70,445.43" fill="#fff" stroke="#111" stroke-width="0.75" stroke-linejoin="miter"/>
<text x="634.20" y="445.70" font-size="5.4" font-weight="bold" text-anchor="start" fill="#111" >Al</text>
<line x1="622.6" y1="450.5" x2="632.5" y2="450.5" stroke="#f00" stroke-width="1.1" stroke-dasharray="1.5,1"/>
<polygon points="627.90,448.20 630.10,452.23 625.70,452.23" fill="#fff" stroke="#f00" stroke-width="0.75" stroke-linejoin="miter"/>
<text x="634.20" y="452.50" font-size="5.4" font-weight="bold" text-anchor="start" fill="#111" >Si</text>
</svg></body></html>
